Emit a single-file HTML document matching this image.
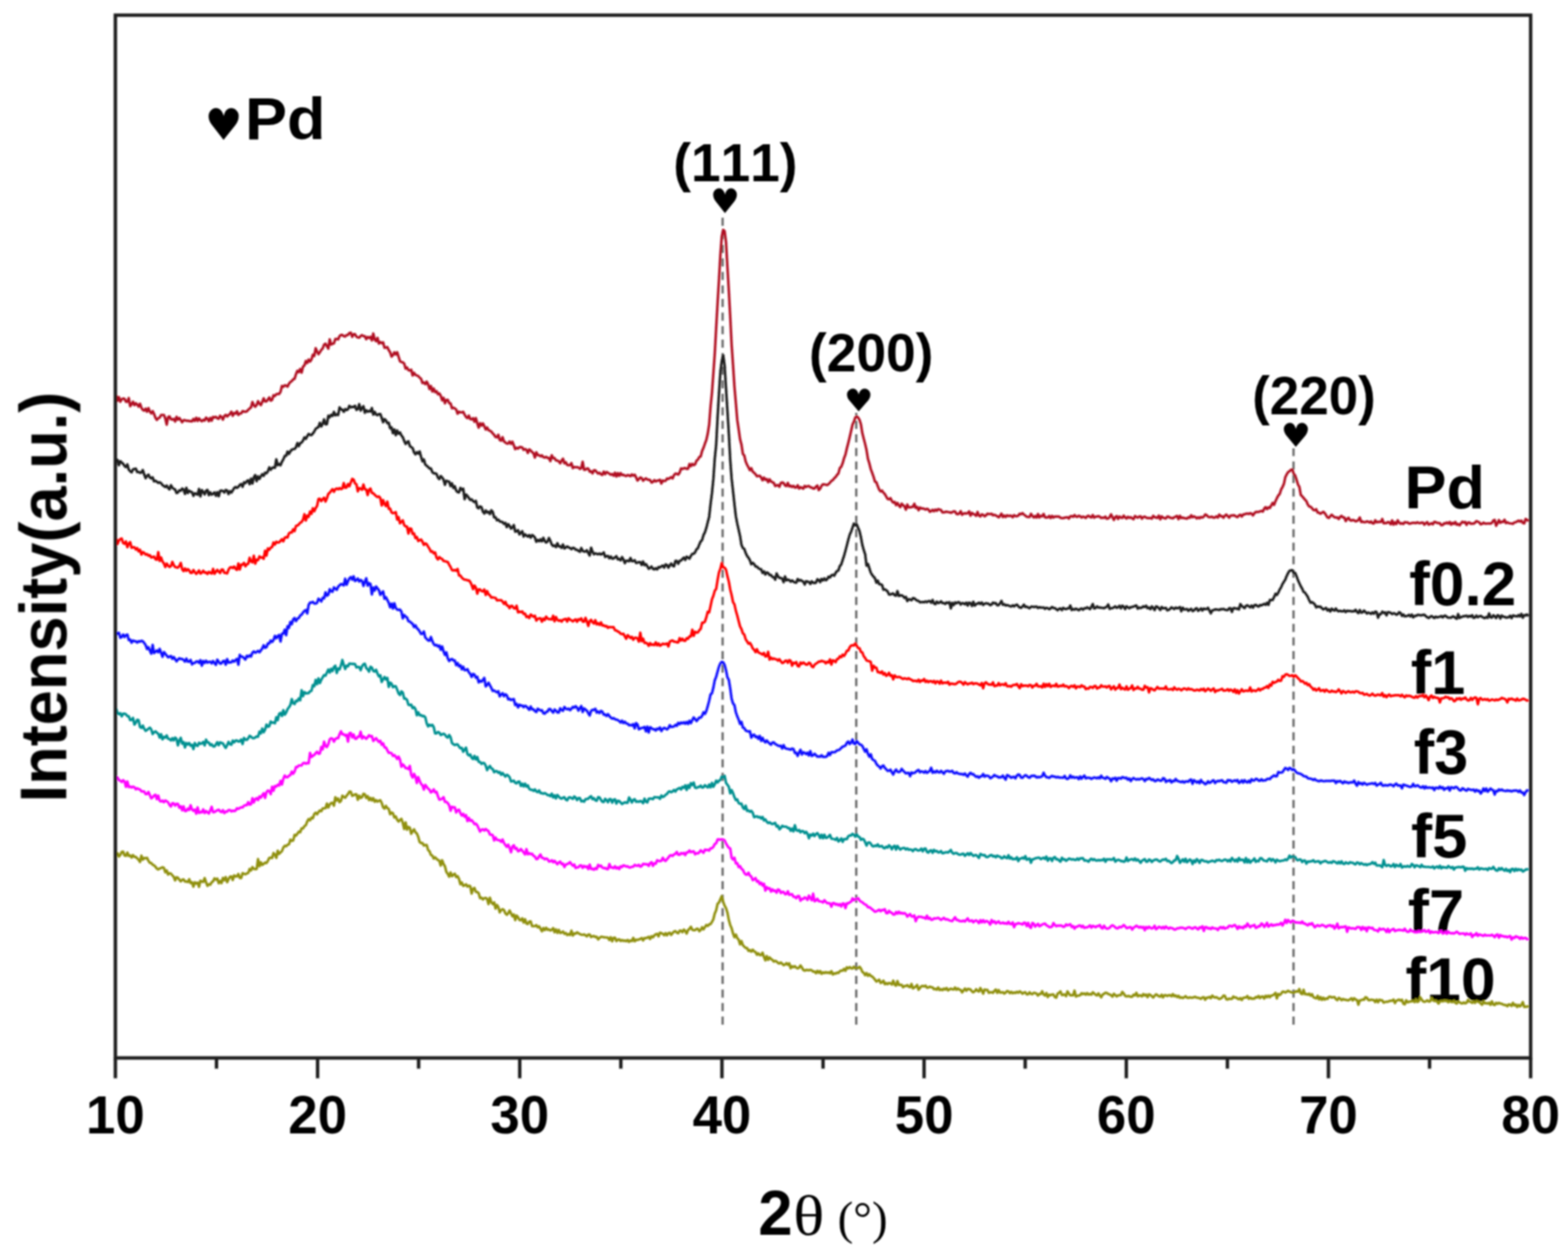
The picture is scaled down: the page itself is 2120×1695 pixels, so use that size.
<!DOCTYPE html><html><head><meta charset="utf-8"><style>html,body{margin:0;padding:0;background:#fff;}svg{display:block;}.b{font-family:"Liberation Sans",Arial,sans-serif;font-weight:bold;fill:#000;font-kerning:none;}.s{font-family:"Liberation Serif","Times New Roman",serif;fill:#000;font-kerning:none;}.h{font-family:"DejaVu Sans",sans-serif;fill:#000;}</style></head><body>
<svg width="2120" height="1695" viewBox="0 0 2120 1695">
<rect width="2120" height="1695" fill="#fff"/>
<defs><filter id="bl" x="-2%" y="-2%" width="104%" height="104%"><feGaussianBlur stdDeviation="0.9"/></filter></defs>
<g filter="url(#bl)">
<text class="b" font-size="84" transform="translate(1898.92,686.6) scale(1.0125,0.982)">Pd</text>
<text class="b" font-size="84" transform="translate(1905.25,817.76) scale(1.0,0.9879)">f0.2</text>
<text class="b" font-size="84" transform="translate(1907.41,938.1) scale(0.9885,0.9885)">f1</text>
<text class="b" font-size="84" transform="translate(1911.51,1046.49) scale(0.9859,1.0081)">f3</text>
<text class="b" font-size="84" transform="translate(1907.73,1159.01) scale(1.0211,0.9879)">f5</text>
<text class="b" font-size="84" transform="translate(1903.58,1260.6) scale(1.0186,0.9951)">f7</text>
<text class="b" font-size="84" transform="translate(1900.25,1352.76) scale(1.0043,0.9879)">f10</text>
<line x1="977.0" y1="1385" x2="977.0" y2="294" stroke="#666" stroke-width="3" stroke-dasharray="11,7.3"/>
<line x1="1157.7" y1="1385" x2="1157.7" y2="558" stroke="#666" stroke-width="3" stroke-dasharray="11,7.3"/>
<line x1="1748.9" y1="1385" x2="1748.9" y2="606" stroke="#666" stroke-width="3" stroke-dasharray="11,7.3"/>
<polyline fill="none" stroke="#b01020" stroke-width="3.4" stroke-linejoin="round" points="157.0,534.5 158.9,541.5 160.8,536.8 162.7,542.9 164.6,539.7 166.5,538.6 168.4,539.2 170.3,543.1 172.2,543.0 174.1,538.1 176.0,549.0 177.9,546.4 179.8,543.0 181.7,547.6 183.6,545.1 185.5,546.8 187.4,549.6 189.3,545.7 191.2,551.1 193.1,554.1 195.0,555.1 196.9,552.4 198.8,556.4 200.7,551.7 202.6,556.3 204.5,558.8 206.4,555.8 208.3,559.6 210.2,564.7 212.1,567.5 214.0,565.3 215.9,564.5 217.8,561.0 219.7,560.9 221.6,560.9 223.5,565.7 225.4,573.9 227.3,563.8 229.2,562.9 231.1,566.6 233.0,567.1 234.9,566.3 236.8,569.7 238.7,563.5 240.6,567.2 242.5,565.0 244.4,567.9 246.3,570.7 248.2,567.9 250.1,568.0 252.0,568.8 253.9,568.6 255.8,569.2 257.7,569.3 259.6,569.5 261.5,566.4 263.4,568.9 265.3,564.7 267.2,568.9 269.1,565.5 271.0,568.1 272.9,569.4 274.8,567.4 276.7,568.5 278.6,564.5 280.5,566.1 282.4,569.3 284.3,564.9 286.2,568.6 288.1,563.6 290.0,564.3 291.9,563.4 293.8,565.4 295.7,566.1 297.6,562.0 299.5,563.5 301.4,567.1 303.3,562.3 305.2,560.7 307.1,562.9 309.0,561.1 310.9,559.5 312.8,556.5 314.7,561.9 316.6,558.2 318.5,559.0 320.4,556.0 322.3,560.8 324.2,558.9 326.1,558.8 328.0,555.7 329.9,556.3 331.8,556.6 333.7,556.2 335.6,553.9 337.5,552.2 339.4,550.7 341.3,543.4 343.2,547.6 345.1,549.8 347.0,547.4 348.9,542.3 350.8,545.6 352.7,547.5 354.6,543.3 356.5,538.4 358.4,542.6 360.3,542.5 362.2,539.9 364.1,537.2 366.0,541.6 367.9,540.5 369.8,534.3 371.7,535.2 373.6,532.8 375.5,532.4 377.4,532.6 379.3,529.6 381.2,521.7 383.1,522.8 385.0,520.8 386.9,521.2 388.8,522.6 390.7,518.7 392.6,516.4 394.5,515.1 396.4,512.7 398.3,512.1 400.2,505.7 402.1,501.2 404.0,503.0 405.9,498.7 407.8,503.7 409.7,495.6 411.6,493.9 413.5,488.1 415.4,490.7 417.3,486.0 419.2,488.7 421.1,485.9 423.0,479.5 424.9,481.1 426.8,470.7 428.7,474.9 430.6,478.8 432.5,476.1 434.4,472.9 436.3,471.0 438.2,465.7 440.1,464.6 442.0,467.9 443.9,471.2 445.8,458.7 447.7,465.7 449.6,464.6 451.5,464.1 453.4,458.2 455.3,458.1 457.2,458.7 459.1,454.4 461.0,452.8 462.9,452.8 464.8,454.3 466.7,454.8 468.6,452.9 470.5,452.7 472.4,450.1 474.3,449.8 476.2,455.3 478.1,451.8 480.0,451.8 481.9,455.0 483.8,456.1 485.7,456.4 487.6,454.1 489.5,453.0 491.4,454.4 493.3,454.4 495.2,458.4 497.1,455.5 499.0,456.9 500.9,455.4 502.8,460.1 504.7,450.8 506.6,458.9 508.5,461.1 510.4,456.7 512.3,464.4 514.2,462.4 516.1,463.9 518.0,462.8 519.9,470.1 521.8,469.9 523.7,469.2 525.6,473.2 527.5,476.1 529.4,481.9 531.3,480.1 533.2,476.2 535.1,479.1 537.0,476.1 538.9,482.3 540.8,488.2 542.7,489.4 544.6,489.7 546.5,491.4 548.4,498.2 550.3,496.7 552.2,500.3 554.1,500.8 556.0,499.8 557.9,507.5 559.8,503.9 561.7,506.7 563.6,507.5 565.5,508.3 567.4,510.5 569.3,512.0 571.2,517.7 573.1,516.9 575.0,519.3 576.9,515.9 578.8,519.4 580.7,525.8 582.6,521.7 584.5,529.2 586.4,525.2 588.3,530.1 590.2,528.8 592.1,532.9 594.0,531.8 595.9,534.9 597.8,541.1 599.7,537.7 601.6,545.1 603.5,540.6 605.4,540.4 607.3,544.9 609.2,545.2 611.1,551.8 613.0,551.1 614.9,552.1 616.8,553.5 618.7,559.1 620.6,556.6 622.5,557.4 624.4,557.4 626.3,556.7 628.2,560.5 630.1,563.7 632.0,565.2 633.9,561.8 635.8,566.4 637.7,566.9 639.6,565.2 641.5,570.1 643.4,565.2 645.3,572.0 647.2,578.1 649.1,572.0 651.0,575.2 652.9,572.3 654.8,576.1 656.7,580.6 658.6,577.9 660.5,581.5 662.4,582.2 664.3,583.4 666.2,585.9 668.1,587.8 670.0,590.7 671.9,591.1 673.8,587.7 675.7,594.8 677.6,595.6 679.5,591.0 681.4,596.7 683.3,598.1 685.2,599.5 687.1,599.6 689.0,596.8 690.9,599.9 692.8,597.1 694.7,601.9 696.6,607.1 698.5,605.3 700.4,606.4 702.3,604.5 704.2,604.3 706.1,604.9 708.0,608.0 709.9,607.0 711.8,608.0 713.7,612.2 715.6,607.5 717.5,608.8 719.4,611.1 721.3,612.5 723.2,618.4 725.1,611.4 727.0,615.1 728.9,615.2 730.8,616.8 732.7,615.5 734.6,617.9 736.5,618.5 738.4,617.5 740.3,619.0 742.2,619.0 744.1,623.3 746.0,615.4 747.9,619.2 749.8,619.3 751.7,622.4 753.6,622.5 755.5,623.6 757.4,626.3 759.3,622.5 761.2,620.0 763.1,626.2 765.0,624.9 766.9,628.4 768.8,628.9 770.7,628.8 772.6,626.0 774.5,632.7 776.4,631.2 778.3,631.6 780.2,631.4 782.1,631.8 784.0,633.8 785.9,632.7 787.8,624.2 789.7,635.0 791.6,634.9 793.5,633.2 795.4,633.4 797.3,637.5 799.2,637.0 801.1,639.8 803.0,635.7 804.9,635.7 806.8,638.1 808.7,640.1 810.6,639.1 812.5,641.2 814.4,641.9 816.3,637.5 818.2,640.9 820.1,638.0 822.0,639.0 823.9,640.4 825.8,641.7 827.7,640.8 829.6,643.0 831.5,639.0 833.4,644.1 835.3,639.5 837.2,643.1 839.1,639.6 841.0,642.1 842.9,641.8 844.8,642.9 846.7,643.5 848.6,642.1 850.5,642.7 852.4,643.6 854.3,641.3 856.2,642.8 858.1,641.7 860.0,645.1 861.9,649.5 863.8,647.6 865.7,645.4 867.6,646.3 869.5,649.8 871.4,647.9 873.3,646.6 875.2,648.1 877.1,648.5 879.0,649.0 880.9,652.2 882.8,651.4 884.7,649.0 886.6,650.7 888.5,649.7 890.4,649.4 892.3,648.6 894.2,653.6 896.1,649.5 898.0,650.2 899.9,649.8 901.8,646.8 903.7,647.3 905.6,646.2 907.5,644.9 909.4,646.6 911.3,642.2 913.2,640.1 915.1,640.5 917.0,641.4 918.9,638.9 920.8,633.2 922.7,633.9 924.6,632.9 926.5,632.7 928.4,633.7 930.3,633.6 932.2,627.2 934.1,630.1 936.0,627.0 937.9,628.7 939.8,627.6 941.7,622.8 943.6,621.2 945.5,617.8 947.4,616.9 949.3,609.5 951.2,605.3 953.1,599.7 955.0,594.7 956.9,586.2 958.8,574.1 960.7,549.6 962.6,531.1 964.5,504.8 966.4,478.2 968.3,443.1 970.2,409.5 972.1,378.0 974.0,344.3 975.9,319.5 977.8,310.6 979.7,312.5 981.6,327.3 983.5,360.6 985.4,392.8 987.3,428.0 989.2,466.1 991.1,493.3 993.0,522.6 994.9,544.6 996.8,567.4 998.7,580.3 1000.6,593.8 1002.5,601.0 1004.4,613.6 1006.3,615.6 1008.2,623.9 1010.1,628.2 1012.0,631.7 1013.9,635.5 1015.8,632.9 1017.7,637.6 1019.6,639.0 1021.5,641.1 1023.4,643.7 1025.3,643.4 1027.2,643.1 1029.1,645.4 1031.0,649.1 1032.9,645.6 1034.8,648.5 1036.7,647.6 1038.6,651.8 1040.5,647.9 1042.4,650.7 1044.3,651.7 1046.2,652.7 1048.1,656.9 1050.0,656.0 1051.9,655.8 1053.8,657.9 1055.7,652.8 1057.6,652.1 1059.5,653.0 1061.4,656.1 1063.3,657.0 1065.2,652.8 1067.1,657.4 1069.0,656.5 1070.9,658.3 1072.8,656.7 1074.7,659.0 1076.6,658.7 1078.5,656.0 1080.4,660.4 1082.3,658.5 1084.2,659.4 1086.1,660.4 1088.0,656.9 1089.9,658.3 1091.8,657.1 1093.7,656.9 1095.6,658.8 1097.5,658.9 1099.4,660.3 1101.3,660.3 1103.2,657.8 1105.1,656.3 1107.0,662.4 1108.9,660.4 1110.8,656.4 1112.7,654.6 1114.6,654.8 1116.5,655.2 1118.4,655.7 1120.3,654.4 1122.2,652.4 1124.1,650.0 1126.0,649.0 1127.9,646.4 1129.8,644.8 1131.7,642.0 1133.6,639.9 1135.5,632.6 1137.4,630.9 1139.3,626.2 1141.2,619.3 1143.1,614.4 1145.0,606.0 1146.9,598.7 1148.8,590.9 1150.7,582.5 1152.6,574.1 1154.5,570.1 1156.4,564.3 1158.3,562.9 1160.2,564.3 1162.1,567.5 1164.0,573.4 1165.9,585.4 1167.8,592.9 1169.7,600.1 1171.6,608.4 1173.5,620.3 1175.4,626.3 1177.3,634.0 1179.2,639.1 1181.1,644.5 1183.0,651.0 1184.9,651.9 1186.8,657.2 1188.7,661.8 1190.6,664.2 1192.5,663.1 1194.4,665.9 1196.3,667.8 1198.2,671.2 1200.1,674.4 1202.0,675.0 1203.9,673.3 1205.8,677.1 1207.7,679.3 1209.6,678.4 1211.5,682.7 1213.4,679.8 1215.3,683.1 1217.2,685.5 1219.1,680.8 1221.0,682.8 1222.9,684.6 1224.8,688.9 1226.7,682.1 1228.6,685.9 1230.5,685.9 1232.4,685.3 1234.3,685.0 1236.2,680.9 1238.1,686.4 1240.0,685.3 1241.9,689.7 1243.8,686.0 1245.7,687.3 1247.6,687.2 1249.5,687.8 1251.4,688.7 1253.3,687.7 1255.2,688.6 1257.1,691.7 1259.0,690.9 1260.9,689.1 1262.8,691.0 1264.7,688.8 1266.6,690.4 1268.5,688.2 1270.4,688.8 1272.3,689.4 1274.2,692.6 1276.1,692.5 1278.0,692.0 1279.9,691.6 1281.8,692.1 1283.7,692.4 1285.6,693.1 1287.5,692.4 1289.4,691.1 1291.3,691.4 1293.2,694.5 1295.1,695.0 1297.0,694.0 1298.9,691.0 1300.8,695.8 1302.7,694.2 1304.6,693.8 1306.5,694.1 1308.4,693.7 1310.3,691.2 1312.2,697.0 1314.1,693.3 1316.0,694.7 1317.9,695.5 1319.8,697.1 1321.7,692.0 1323.6,696.9 1325.5,698.0 1327.4,695.3 1329.3,695.9 1331.2,697.8 1333.1,696.7 1335.0,694.4 1336.9,694.7 1338.8,694.9 1340.7,694.5 1342.6,696.5 1344.5,695.9 1346.4,696.7 1348.3,697.7 1350.2,699.3 1352.1,697.1 1354.0,694.3 1355.9,698.9 1357.8,696.8 1359.7,698.7 1361.6,696.5 1363.5,697.6 1365.4,697.0 1367.3,697.2 1369.2,699.1 1371.1,696.4 1373.0,697.6 1374.9,697.7 1376.8,696.9 1378.7,694.4 1380.6,695.1 1382.5,693.6 1384.4,695.5 1386.3,697.0 1388.2,698.3 1390.1,698.9 1392.0,698.9 1393.9,694.6 1395.8,697.3 1397.7,699.5 1399.6,697.5 1401.5,699.5 1403.4,694.8 1405.3,699.5 1407.2,697.2 1409.1,698.0 1411.0,694.7 1412.9,699.2 1414.8,699.5 1416.7,699.2 1418.6,697.4 1420.5,700.2 1422.4,697.4 1424.3,699.5 1426.2,698.2 1428.1,698.2 1430.0,698.1 1431.9,698.3 1433.8,699.9 1435.7,700.4 1437.6,700.4 1439.5,699.7 1441.4,699.4 1443.3,699.1 1445.2,700.9 1447.1,697.9 1449.0,697.6 1450.9,698.6 1452.8,696.2 1454.7,698.2 1456.6,698.5 1458.5,697.2 1460.4,697.8 1462.3,699.6 1464.2,698.3 1466.1,698.8 1468.0,700.1 1469.9,697.9 1471.8,697.1 1473.7,698.7 1475.6,699.4 1477.5,696.2 1479.4,699.7 1481.3,698.4 1483.2,698.3 1485.1,697.6 1487.0,698.6 1488.9,700.2 1490.8,699.6 1492.7,700.0 1494.6,698.4 1496.5,701.2 1498.4,700.7 1500.3,698.9 1502.2,695.3 1504.1,699.1 1506.0,702.8 1507.9,698.9 1509.8,697.6 1511.7,701.4 1513.6,698.2 1515.5,699.7 1517.4,700.1 1519.3,697.0 1521.2,699.3 1523.1,700.8 1525.0,698.6 1526.9,700.0 1528.8,699.1 1530.7,700.6 1532.6,701.7 1534.5,697.6 1536.4,698.8 1538.3,699.7 1540.2,698.3 1542.1,698.0 1544.0,701.0 1545.9,698.8 1547.8,698.3 1549.7,699.7 1551.6,700.3 1553.5,700.3 1555.4,700.2 1557.3,700.9 1559.2,697.3 1561.1,699.1 1563.0,699.5 1564.9,700.0 1566.8,697.0 1568.7,701.9 1570.6,698.0 1572.5,699.6 1574.4,700.3 1576.3,700.8 1578.2,698.3 1580.1,698.5 1582.0,699.8 1583.9,700.1 1585.8,700.5 1587.7,699.2 1589.6,698.3 1591.5,697.4 1593.4,701.7 1595.3,697.3 1597.2,700.2 1599.1,699.6 1601.0,700.3 1602.9,700.6 1604.8,701.1 1606.7,699.1 1608.6,699.8 1610.5,696.5 1612.4,699.2 1614.3,697.9 1616.2,698.9 1618.1,700.8 1620.0,699.2 1621.9,700.6 1623.8,698.8 1625.7,699.6 1627.6,698.4 1629.5,695.4 1631.4,696.2 1633.3,698.5 1635.2,699.1 1637.1,698.8 1639.0,698.5 1640.9,699.9 1642.8,699.4 1644.7,697.9 1646.6,699.6 1648.5,695.5 1650.4,697.7 1652.3,697.8 1654.2,699.7 1656.1,697.0 1658.0,695.5 1659.9,697.7 1661.8,699.7 1663.7,696.9 1665.6,696.8 1667.5,696.5 1669.4,696.7 1671.3,698.3 1673.2,699.0 1675.1,696.7 1677.0,695.7 1678.9,698.2 1680.8,695.5 1682.7,695.2 1684.6,694.4 1686.5,694.2 1688.4,694.7 1690.3,693.6 1692.2,694.3 1694.1,696.6 1696.0,693.8 1697.9,692.0 1699.8,691.9 1701.7,692.0 1703.6,691.2 1705.5,690.6 1707.4,691.5 1709.3,687.5 1711.2,685.5 1713.1,688.2 1715.0,685.7 1716.9,686.6 1718.8,683.1 1720.7,679.8 1722.6,682.4 1724.5,677.5 1726.4,673.4 1728.3,669.7 1730.2,667.8 1732.1,661.7 1734.0,658.3 1735.9,654.0 1737.8,645.0 1739.7,641.2 1741.6,638.1 1743.5,636.9 1745.4,635.1 1747.3,634.5 1749.2,640.5 1751.1,642.7 1753.0,648.4 1754.9,654.8 1756.8,658.1 1758.7,668.9 1760.6,670.7 1762.5,673.1 1764.4,675.4 1766.3,677.4 1768.2,682.0 1770.1,684.6 1772.0,685.0 1773.9,686.9 1775.8,689.3 1777.7,689.7 1779.6,688.3 1781.5,692.8 1783.4,693.0 1785.3,694.5 1787.2,693.1 1789.1,691.8 1791.0,693.6 1792.9,696.3 1794.8,699.3 1796.7,700.1 1798.6,697.7 1800.5,695.7 1802.4,697.7 1804.3,699.1 1806.2,699.5 1808.1,699.4 1810.0,701.5 1811.9,698.7 1813.8,697.3 1815.7,699.4 1817.6,699.4 1819.5,704.3 1821.4,701.3 1823.3,699.9 1825.2,703.0 1827.1,703.8 1829.0,702.8 1830.9,703.3 1832.8,704.7 1834.7,704.2 1836.6,702.8 1838.5,699.5 1840.4,705.5 1842.3,705.0 1844.2,705.9 1846.1,705.7 1848.0,704.8 1849.9,705.1 1851.8,706.3 1853.7,704.9 1855.6,707.3 1857.5,707.6 1859.4,703.3 1861.3,706.1 1863.2,705.3 1865.1,705.5 1867.0,705.4 1868.9,701.6 1870.8,707.3 1872.7,707.0 1874.6,707.1 1876.5,705.6 1878.4,706.2 1880.3,708.7 1882.2,703.4 1884.1,709.1 1886.0,706.0 1887.9,708.4 1889.8,703.3 1891.7,706.3 1893.6,708.0 1895.5,707.1 1897.4,708.3 1899.3,705.8 1901.2,706.2 1903.1,706.1 1905.0,707.7 1906.9,707.7 1908.8,706.9 1910.7,706.7 1912.6,706.7 1914.5,707.2 1916.4,705.9 1918.3,707.1 1920.2,707.0 1922.1,706.5 1924.0,706.4 1925.9,709.2 1927.8,707.2 1929.7,705.7 1931.6,709.1 1933.5,708.3 1935.4,707.3 1937.3,708.7 1939.2,705.4 1941.1,705.7 1943.0,706.8 1944.9,707.0 1946.8,707.2 1948.7,709.9 1950.6,709.6 1952.5,707.3 1954.4,707.7 1956.3,706.2 1958.2,707.8 1960.1,705.6 1962.0,709.3 1963.9,706.7 1965.8,708.2 1967.7,705.6 1969.6,709.3 1971.5,708.2 1973.4,710.0 1975.3,707.5 1977.2,705.2 1979.1,706.3 1981.0,705.6 1982.9,709.4 1984.8,706.4 1986.7,706.2 1988.6,708.0 1990.5,707.6 1992.4,707.8 1994.3,706.5 1996.2,704.4 1998.1,705.2 2000.0,706.0 2001.9,708.7 2003.8,708.2 2005.7,706.4 2007.6,707.7 2009.5,707.7 2011.4,707.6 2013.3,707.5 2015.2,707.9 2017.1,706.8 2019.0,703.6 2020.9,702.8 2022.8,710.7 2024.7,707.2 2026.6,703.0 2028.5,706.6 2030.4,705.1 2032.3,705.5 2034.2,702.6 2036.1,707.1 2038.0,705.9 2039.9,707.1 2041.8,707.4 2043.7,707.6 2045.6,708.0 2047.5,706.1 2049.4,705.9 2051.3,704.7 2053.2,703.7 2055.1,705.1 2057.0,703.7 2058.9,706.9 2060.8,707.5 2062.7,701.5 2064.6,702.5 2066.5,704.7"/>
<polyline fill="none" stroke="#1a1a1a" stroke-width="3.4" stroke-linejoin="round" points="157.0,622.0 158.9,621.7 160.8,628.8 162.7,623.4 164.6,625.3 166.5,627.1 168.4,629.8 170.3,631.3 172.2,627.7 174.1,634.8 176.0,637.0 177.9,638.5 179.8,634.6 181.7,633.8 183.6,633.4 185.5,638.0 187.4,637.9 189.3,639.0 191.2,638.5 193.1,635.4 195.0,641.4 196.9,646.3 198.8,643.2 200.7,641.5 202.6,645.4 204.5,646.7 206.4,645.2 208.3,650.6 210.2,649.8 212.1,651.2 214.0,652.7 215.9,651.9 217.8,653.2 219.7,655.6 221.6,657.0 223.5,658.2 225.4,656.4 227.3,659.6 229.2,661.4 231.1,655.9 233.0,659.2 234.9,660.8 236.8,661.6 238.7,666.5 240.6,665.6 242.5,662.8 244.4,663.2 246.3,660.4 248.2,661.7 250.1,667.6 252.0,659.5 253.9,666.4 255.8,663.4 257.7,664.6 259.6,665.4 261.5,670.2 263.4,666.8 265.3,667.4 267.2,668.7 269.1,661.0 271.0,671.0 272.9,662.5 274.8,664.8 276.7,668.2 278.6,663.5 280.5,662.2 282.4,669.2 284.3,665.6 286.2,668.6 288.1,667.4 290.0,665.6 291.9,670.1 293.8,665.3 295.7,670.7 297.6,663.5 299.5,663.1 301.4,663.7 303.3,665.7 305.2,662.2 307.1,663.0 309.0,667.8 310.9,664.1 312.8,665.8 314.7,663.0 316.6,659.7 318.5,658.3 320.4,659.5 322.3,658.1 324.2,655.5 326.1,654.3 328.0,658.1 329.9,651.9 331.8,653.1 333.7,650.5 335.6,649.3 337.5,654.5 339.4,647.1 341.3,653.6 343.2,645.2 345.1,642.2 347.0,650.3 348.9,644.0 350.8,647.3 352.7,643.7 354.6,641.0 356.5,643.1 358.4,638.9 360.3,639.7 362.2,637.1 364.1,631.8 366.0,635.0 367.9,632.4 369.8,631.9 371.7,632.3 373.6,620.9 375.5,628.8 377.4,627.1 379.3,628.9 381.2,624.1 383.1,620.9 385.0,616.3 386.9,616.1 388.8,610.4 390.7,613.5 392.6,610.1 394.5,607.9 396.4,607.2 398.3,606.8 400.2,604.6 402.1,598.9 404.0,603.1 405.9,599.0 407.8,598.2 409.7,595.6 411.6,591.3 413.5,593.1 415.4,589.6 417.3,586.6 419.2,587.8 421.1,588.0 423.0,586.0 424.9,583.2 426.8,579.7 428.7,578.3 430.6,577.2 432.5,571.6 434.4,576.5 436.3,572.7 438.2,566.9 440.1,573.5 442.0,573.3 443.9,562.0 445.8,564.0 447.7,560.7 449.6,562.2 451.5,556.8 453.4,561.4 455.3,559.9 457.2,561.0 459.1,550.7 461.0,553.1 462.9,553.9 464.8,556.6 466.7,553.1 468.6,554.3 470.5,553.1 472.4,548.5 474.3,550.7 476.2,549.9 478.1,550.2 480.0,548.5 481.9,554.0 483.8,552.9 485.7,546.3 487.6,555.0 489.5,551.4 491.4,549.0 493.3,557.9 495.2,554.6 497.1,556.4 499.0,555.4 500.9,556.3 502.8,551.6 504.7,560.4 506.6,556.8 508.5,560.2 510.4,561.1 512.3,559.6 514.2,559.6 516.1,564.9 518.0,570.7 519.9,566.5 521.8,568.2 523.7,571.9 525.6,571.5 527.5,578.8 529.4,577.8 531.3,585.5 533.2,580.5 535.1,588.2 537.0,581.9 538.9,586.2 540.8,584.5 542.7,588.6 544.6,590.9 546.5,595.8 548.4,600.1 550.3,597.6 552.2,596.5 554.1,602.7 556.0,604.4 557.9,605.6 559.8,611.4 561.7,614.1 563.6,611.2 565.5,613.2 567.4,610.2 569.3,617.6 571.2,623.6 573.1,621.0 575.0,628.0 576.9,629.4 578.8,631.2 580.7,633.2 582.6,633.3 584.5,638.0 586.4,639.9 588.3,639.8 590.2,640.5 592.1,645.5 594.0,647.5 595.9,643.6 597.8,645.4 599.7,648.2 601.6,655.3 603.5,649.9 605.4,650.5 607.3,651.1 609.2,656.9 611.1,653.4 613.0,659.6 614.9,657.3 616.8,663.2 618.7,665.2 620.6,665.5 622.5,659.4 624.4,662.1 626.3,660.6 628.2,674.8 630.1,668.5 632.0,670.4 633.9,673.0 635.8,675.8 637.7,675.0 639.6,677.4 641.5,678.7 643.4,677.1 645.3,685.8 647.2,687.0 649.1,684.4 651.0,685.4 652.9,691.4 654.8,694.1 656.7,690.0 658.6,692.7 660.5,691.8 662.4,694.8 664.3,689.8 666.2,691.9 668.1,699.2 670.0,699.1 671.9,703.3 673.8,702.4 675.7,704.8 677.6,705.3 679.5,705.6 681.4,708.1 683.3,706.9 685.2,712.5 687.1,708.5 689.0,710.8 690.9,714.6 692.8,712.9 694.7,709.8 696.6,718.7 698.5,718.2 700.4,716.6 702.3,722.3 704.2,720.2 706.1,718.1 708.0,725.2 709.9,722.2 711.8,723.9 713.7,725.3 715.6,723.2 717.5,726.8 719.4,723.2 721.3,724.5 723.2,726.4 725.1,732.3 727.0,729.8 728.9,731.6 730.8,729.1 732.7,731.7 734.6,727.0 736.5,731.3 738.4,733.3 740.3,731.9 742.2,727.2 744.1,731.0 746.0,736.0 747.9,738.0 749.8,737.3 751.7,739.5 753.6,734.3 755.5,738.6 757.4,738.5 759.3,740.5 761.2,736.0 763.1,741.3 765.0,740.1 766.9,738.6 768.8,739.9 770.7,740.8 772.6,742.2 774.5,740.4 776.4,740.8 778.3,743.0 780.2,743.2 782.1,744.6 784.0,745.8 785.9,740.8 787.8,744.6 789.7,745.5 791.6,745.5 793.5,743.8 795.4,747.5 797.3,750.8 799.2,740.4 801.1,745.7 803.0,749.1 804.9,748.0 806.8,748.6 808.7,749.2 810.6,748.3 812.5,749.5 814.4,748.6 816.3,746.7 818.2,752.8 820.1,751.8 822.0,751.5 823.9,754.6 825.8,752.2 827.7,755.0 829.6,754.9 831.5,753.3 833.4,751.9 835.3,756.0 837.2,755.5 839.1,757.4 841.0,753.1 842.9,756.2 844.8,761.2 846.7,757.9 848.6,757.9 850.5,758.7 852.4,754.3 854.3,758.5 856.2,758.4 858.1,757.3 860.0,760.9 861.9,760.6 863.8,759.8 865.7,759.9 867.6,763.6 869.5,759.0 871.4,763.9 873.3,762.6 875.2,765.2 877.1,768.8 879.0,767.5 880.9,765.9 882.8,768.9 884.7,769.6 886.6,768.1 888.5,769.6 890.4,766.5 892.3,767.0 894.2,765.5 896.1,764.6 898.0,767.2 899.9,763.0 901.8,763.7 903.7,767.3 905.6,764.1 907.5,761.8 909.4,764.6 911.3,765.5 913.2,758.3 915.1,758.3 917.0,761.9 918.9,758.2 920.8,757.6 922.7,755.5 924.6,753.7 926.5,756.9 928.4,752.4 930.3,753.8 932.2,755.0 934.1,751.4 936.0,748.6 937.9,748.5 939.8,746.6 941.7,742.6 943.6,740.9 945.5,736.0 947.4,731.7 949.3,729.9 951.2,723.1 953.1,719.5 955.0,713.6 956.9,705.9 958.8,698.8 960.7,681.3 962.6,666.7 964.5,647.7 966.4,619.8 968.3,601.1 970.2,564.4 972.1,532.2 974.0,502.6 975.9,487.9 977.8,480.2 979.7,494.1 981.6,525.2 983.5,555.2 985.4,586.0 987.3,621.7 989.2,646.9 991.1,663.9 993.0,681.5 994.9,697.7 996.8,707.6 998.7,716.2 1000.6,724.6 1002.5,736.4 1004.4,740.8 1006.3,741.9 1008.2,747.5 1010.1,751.5 1012.0,753.9 1013.9,757.2 1015.8,762.7 1017.7,760.7 1019.6,762.5 1021.5,765.5 1023.4,766.0 1025.3,767.9 1027.2,769.2 1029.1,769.5 1031.0,774.4 1032.9,772.3 1034.8,776.6 1036.7,773.8 1038.6,774.6 1040.5,777.3 1042.4,777.2 1044.3,779.8 1046.2,780.1 1048.1,783.5 1050.0,775.2 1051.9,779.0 1053.8,781.1 1055.7,781.3 1057.6,782.1 1059.5,786.9 1061.4,779.2 1063.3,784.5 1065.2,783.4 1067.1,784.1 1069.0,786.2 1070.9,784.6 1072.8,786.3 1074.7,787.4 1076.6,787.5 1078.5,782.7 1080.4,784.9 1082.3,784.0 1084.2,785.1 1086.1,786.2 1088.0,790.1 1089.9,785.7 1091.8,786.3 1093.7,786.6 1095.6,789.3 1097.5,785.9 1099.4,787.5 1101.3,788.0 1103.2,787.5 1105.1,783.1 1107.0,784.0 1108.9,786.9 1110.8,782.5 1112.7,784.5 1114.6,781.9 1116.5,784.3 1118.4,782.8 1120.3,779.4 1122.2,780.4 1124.1,777.7 1126.0,777.0 1127.9,778.1 1129.8,774.4 1131.7,771.9 1133.6,770.9 1135.5,765.1 1137.4,763.0 1139.3,756.9 1141.2,751.4 1143.1,744.4 1145.0,737.1 1146.9,729.6 1148.8,722.9 1150.7,718.7 1152.6,713.2 1154.5,707.8 1156.4,710.1 1158.3,708.9 1160.2,713.5 1162.1,718.0 1164.0,726.1 1165.9,736.5 1167.8,743.4 1169.7,749.0 1171.6,764.6 1173.5,762.4 1175.4,767.9 1177.3,774.0 1179.2,777.2 1181.1,779.5 1183.0,781.6 1184.9,787.6 1186.8,784.8 1188.7,789.6 1190.6,789.8 1192.5,790.6 1194.4,797.0 1196.3,796.6 1198.2,797.8 1200.1,799.5 1202.0,803.6 1203.9,803.6 1205.8,802.7 1207.7,802.2 1209.6,804.6 1211.5,805.1 1213.4,799.1 1215.3,805.6 1217.2,804.8 1219.1,804.8 1221.0,805.7 1222.9,808.2 1224.8,806.8 1226.7,812.4 1228.6,809.9 1230.5,810.4 1232.4,811.2 1234.3,808.5 1236.2,808.7 1238.1,810.4 1240.0,811.9 1241.9,812.1 1243.8,814.0 1245.7,813.9 1247.6,813.6 1249.5,814.0 1251.4,812.9 1253.3,814.0 1255.2,812.5 1257.1,812.5 1259.0,814.7 1260.9,811.1 1262.8,815.7 1264.7,816.6 1266.6,813.2 1268.5,815.2 1270.4,814.5 1272.3,812.9 1274.2,815.0 1276.1,815.3 1278.0,816.2 1279.9,814.3 1281.8,815.1 1283.7,814.0 1285.6,822.4 1287.5,814.9 1289.4,817.9 1291.3,814.2 1293.2,815.5 1295.1,814.0 1297.0,814.3 1298.9,817.1 1300.8,815.3 1302.7,815.5 1304.6,816.7 1306.5,814.5 1308.4,818.6 1310.3,814.6 1312.2,815.3 1314.1,819.1 1316.0,813.4 1317.9,818.6 1319.8,816.6 1321.7,815.9 1323.6,814.6 1325.5,816.4 1327.4,814.4 1329.3,817.7 1331.2,816.0 1333.1,815.4 1335.0,815.7 1336.9,816.3 1338.8,818.0 1340.7,817.1 1342.6,814.4 1344.5,815.5 1346.4,815.3 1348.3,818.1 1350.2,817.8 1352.1,815.5 1354.0,812.3 1355.9,817.5 1357.8,816.7 1359.7,818.5 1361.6,817.7 1363.5,818.5 1365.4,819.3 1367.3,819.8 1369.2,818.2 1371.1,819.7 1373.0,818.0 1374.9,817.2 1376.8,819.5 1378.7,821.1 1380.6,821.6 1382.5,819.6 1384.4,817.4 1386.3,820.5 1388.2,819.9 1390.1,821.3 1392.0,822.1 1393.9,820.1 1395.8,819.9 1397.7,820.5 1399.6,820.2 1401.5,819.9 1403.4,821.8 1405.3,820.6 1407.2,821.3 1409.1,821.4 1411.0,821.1 1412.9,822.9 1414.8,821.5 1416.7,822.1 1418.6,823.5 1420.5,822.2 1422.4,820.4 1424.3,821.8 1426.2,821.9 1428.1,823.5 1430.0,824.9 1431.9,822.9 1433.8,822.4 1435.7,824.6 1437.6,821.6 1439.5,823.0 1441.4,823.2 1443.3,822.4 1445.2,822.2 1447.1,818.4 1449.0,824.6 1450.9,823.2 1452.8,824.0 1454.7,822.7 1456.6,823.6 1458.5,824.8 1460.4,823.3 1462.3,822.4 1464.2,824.1 1466.1,822.2 1468.0,822.2 1469.9,821.0 1471.8,822.0 1473.7,823.2 1475.6,820.3 1477.5,816.4 1479.4,822.4 1481.3,821.8 1483.2,819.7 1485.1,821.2 1487.0,821.1 1488.9,821.5 1490.8,821.6 1492.7,822.0 1494.6,821.1 1496.5,820.0 1498.4,817.1 1500.3,822.9 1502.2,822.2 1504.1,821.9 1506.0,820.9 1507.9,819.7 1509.8,821.6 1511.7,820.7 1513.6,818.9 1515.5,822.2 1517.4,818.7 1519.3,820.1 1521.2,823.2 1523.1,819.5 1525.0,820.9 1526.9,822.2 1528.8,820.7 1530.7,820.5 1532.6,819.9 1534.5,818.9 1536.4,818.5 1538.3,822.7 1540.2,821.2 1542.1,821.8 1544.0,821.2 1545.9,819.5 1547.8,820.5 1549.7,818.9 1551.6,822.1 1553.5,821.2 1555.4,823.5 1557.3,819.7 1559.2,821.7 1561.1,824.6 1563.0,819.8 1564.9,820.1 1566.8,822.2 1568.7,824.4 1570.6,820.4 1572.5,822.3 1574.4,822.0 1576.3,821.6 1578.2,825.0 1580.1,824.4 1582.0,823.0 1583.9,821.0 1585.8,822.1 1587.7,823.2 1589.6,821.2 1591.5,822.3 1593.4,821.7 1595.3,820.6 1597.2,826.2 1599.1,821.4 1601.0,823.9 1602.9,823.6 1604.8,823.1 1606.7,825.7 1608.6,824.2 1610.5,823.0 1612.4,825.9 1614.3,825.1 1616.2,822.9 1618.1,822.2 1620.0,825.6 1621.9,824.2 1623.8,822.4 1625.7,825.2 1627.6,822.4 1629.5,823.4 1631.4,823.2 1633.3,821.6 1635.2,825.3 1637.1,829.1 1639.0,825.1 1640.9,824.7 1642.8,823.7 1644.7,823.8 1646.6,824.2 1648.5,824.6 1650.4,823.3 1652.3,823.6 1654.2,823.1 1656.1,824.1 1658.0,824.5 1659.9,824.6 1661.8,822.3 1663.7,822.1 1665.6,827.1 1667.5,822.1 1669.4,822.0 1671.3,822.8 1673.2,822.5 1675.1,823.7 1677.0,816.6 1678.9,818.9 1680.8,820.6 1682.7,822.0 1684.6,819.0 1686.5,818.1 1688.4,819.5 1690.3,821.0 1692.2,818.6 1694.1,821.3 1696.0,818.2 1697.9,817.5 1699.8,819.1 1701.7,819.8 1703.6,817.8 1705.5,818.3 1707.4,817.2 1709.3,816.2 1711.2,817.5 1713.1,814.7 1715.0,817.5 1716.9,811.0 1718.8,811.0 1720.7,811.0 1722.6,807.1 1724.5,802.6 1726.4,804.2 1728.3,801.2 1730.2,796.8 1732.1,793.8 1734.0,789.3 1735.9,786.3 1737.8,783.3 1739.7,778.4 1741.6,774.5 1743.5,771.6 1745.4,770.9 1747.3,770.7 1749.2,774.4 1751.1,774.4 1753.0,778.8 1754.9,784.2 1756.8,788.4 1758.7,792.5 1760.6,795.6 1762.5,800.1 1764.4,801.1 1766.3,803.9 1768.2,806.8 1770.1,811.4 1772.0,814.7 1773.9,813.9 1775.8,815.2 1777.7,816.9 1779.6,820.9 1781.5,819.6 1783.4,820.3 1785.3,820.0 1787.2,822.1 1789.1,823.8 1791.0,822.8 1792.9,821.8 1794.8,825.1 1796.7,823.6 1798.6,826.5 1800.5,822.8 1802.4,824.4 1804.3,825.2 1806.2,822.6 1808.1,825.4 1810.0,826.3 1811.9,825.5 1813.8,826.4 1815.7,826.2 1817.6,825.0 1819.5,827.3 1821.4,825.4 1823.3,826.1 1825.2,825.7 1827.1,826.5 1829.0,826.3 1830.9,826.4 1832.8,824.2 1834.7,826.9 1836.6,828.7 1838.5,824.6 1840.4,828.0 1842.3,827.6 1844.2,825.3 1846.1,827.2 1848.0,829.2 1849.9,828.0 1851.8,828.6 1853.7,829.7 1855.6,827.8 1857.5,829.5 1859.4,826.7 1861.3,827.3 1863.2,834.9 1865.1,830.5 1867.0,830.0 1868.9,826.8 1870.8,828.6 1872.7,827.8 1874.6,831.7 1876.5,827.4 1878.4,827.6 1880.3,828.6 1882.2,830.0 1884.1,828.9 1886.0,829.4 1887.9,830.8 1889.8,830.1 1891.7,827.6 1893.6,828.6 1895.5,832.6 1897.4,830.6 1899.3,833.1 1901.2,832.8 1903.1,832.4 1905.0,831.1 1906.9,833.2 1908.8,830.7 1910.7,834.5 1912.6,832.4 1914.5,832.5 1916.4,831.3 1918.3,831.2 1920.2,831.7 1922.1,831.5 1924.0,831.2 1925.9,831.0 1927.8,832.8 1929.7,834.3 1931.6,835.4 1933.5,833.9 1935.4,832.8 1937.3,833.9 1939.2,835.4 1941.1,833.4 1943.0,834.6 1944.9,833.9 1946.8,833.6 1948.7,832.7 1950.6,834.5 1952.5,832.5 1954.4,832.3 1956.3,834.1 1958.2,834.9 1960.1,834.9 1962.0,834.8 1963.9,833.3 1965.8,833.5 1967.7,835.2 1969.6,836.4 1971.5,830.1 1973.4,835.3 1975.3,834.0 1977.2,833.6 1979.1,832.7 1981.0,832.8 1982.9,832.1 1984.8,834.0 1986.7,832.4 1988.6,833.4 1990.5,831.6 1992.4,835.2 1994.3,834.6 1996.2,832.1 1998.1,834.2 2000.0,833.1 2001.9,832.5 2003.8,833.7 2005.7,834.7 2007.6,835.6 2009.5,833.9 2011.4,835.1 2013.3,829.2 2015.2,834.3 2017.1,834.8 2019.0,831.7 2020.9,833.0 2022.8,835.5 2024.7,831.7 2026.6,832.3 2028.5,835.9 2030.4,832.0 2032.3,833.5 2034.2,833.7 2036.1,834.7 2038.0,834.5 2039.9,834.4 2041.8,832.2 2043.7,835.5 2045.6,832.0 2047.5,832.5 2049.4,832.8 2051.3,833.2 2053.2,831.4 2055.1,833.2 2057.0,829.9 2058.9,834.9 2060.8,831.5 2062.7,831.7 2064.6,830.5 2066.5,832.8"/>
<polyline fill="none" stroke="#ff0000" stroke-width="3.4" stroke-linejoin="round" points="157.0,727.9 158.9,735.2 160.8,730.5 162.7,728.6 164.6,727.9 166.5,733.9 168.4,734.9 170.3,731.9 172.2,739.5 174.1,734.8 176.0,732.7 177.9,740.4 179.8,739.8 181.7,739.6 183.6,742.7 185.5,740.9 187.4,745.3 189.3,743.0 191.2,749.6 193.1,746.3 195.0,747.3 196.9,749.7 198.8,748.9 200.7,751.2 202.6,750.4 204.5,753.5 206.4,753.0 208.3,752.3 210.2,756.0 212.1,756.6 214.0,746.3 215.9,758.2 217.8,753.6 219.7,759.0 221.6,761.6 223.5,766.4 225.4,761.8 227.3,764.5 229.2,766.4 231.1,765.3 233.0,759.5 234.9,763.7 236.8,766.4 238.7,767.0 240.6,767.2 242.5,765.2 244.4,760.9 246.3,769.4 248.2,771.9 250.1,768.4 252.0,771.5 253.9,769.4 255.8,770.9 257.7,774.4 259.6,774.3 261.5,770.5 263.4,773.5 265.3,775.7 267.2,773.8 269.1,771.1 271.0,775.3 272.9,774.0 274.8,771.4 276.7,774.1 278.6,773.7 280.5,775.8 282.4,773.0 284.3,774.2 286.2,775.2 288.1,768.9 290.0,775.6 291.9,773.0 293.8,770.2 295.7,772.6 297.6,774.5 299.5,769.9 301.4,769.9 303.3,774.2 305.2,774.4 307.1,775.1 309.0,770.0 310.9,767.1 312.8,766.7 314.7,767.8 316.6,765.7 318.5,768.8 320.4,770.3 322.3,761.7 324.2,769.8 326.1,763.3 328.0,763.2 329.9,760.8 331.8,765.4 333.7,762.7 335.6,762.2 337.5,754.0 339.4,758.9 341.3,760.1 343.2,751.2 345.1,761.9 347.0,756.5 348.9,757.1 350.8,752.1 352.7,753.8 354.6,753.3 356.5,755.2 358.4,744.4 360.3,751.0 362.2,741.3 364.1,743.1 366.0,740.3 367.9,739.4 369.8,733.3 371.7,736.1 373.6,732.2 375.5,733.4 377.4,733.1 379.3,731.0 381.2,728.9 383.1,731.7 385.0,726.9 386.9,726.0 388.8,726.5 390.7,720.9 392.6,719.8 394.5,719.7 396.4,715.4 398.3,717.9 400.2,710.9 402.1,710.3 404.0,708.8 405.9,706.5 407.8,705.6 409.7,702.4 411.6,695.1 413.5,703.5 415.4,697.0 417.3,698.6 419.2,691.4 421.1,694.5 423.0,687.1 424.9,691.1 426.8,686.8 428.7,683.9 430.6,674.5 432.5,674.1 434.4,677.3 436.3,674.7 438.2,672.7 440.1,677.9 442.0,673.6 443.9,667.6 445.8,666.0 447.7,663.5 449.6,661.2 451.5,664.7 453.4,661.2 455.3,660.3 457.2,661.4 459.1,659.7 461.0,661.1 462.9,660.2 464.8,653.0 466.7,659.3 468.6,658.8 470.5,654.2 472.4,657.2 474.3,652.2 476.2,647.3 478.1,648.2 480.0,653.4 481.9,654.7 483.8,664.2 485.7,659.8 487.6,660.4 489.5,662.0 491.4,654.9 493.3,661.2 495.2,661.6 497.1,669.2 499.0,661.8 500.9,660.4 502.8,666.3 504.7,666.7 506.6,668.8 508.5,670.6 510.4,671.9 512.3,671.0 514.2,673.2 516.1,683.3 518.0,676.0 519.9,681.2 521.8,684.0 523.7,678.0 525.6,687.7 527.5,687.5 529.4,692.6 531.3,693.7 533.2,693.2 535.1,692.3 537.0,702.3 538.9,699.0 540.8,707.3 542.7,705.4 544.6,703.4 546.5,709.7 548.4,711.5 550.3,711.8 552.2,721.2 554.1,714.3 556.0,714.7 557.9,721.7 559.8,721.0 561.7,727.3 563.6,725.9 565.5,731.3 567.4,730.1 569.3,729.3 571.2,732.2 573.1,736.5 575.0,734.6 576.9,735.6 578.8,738.9 580.7,741.7 582.6,745.7 584.5,745.2 586.4,747.9 588.3,746.8 590.2,753.7 592.1,756.2 594.0,753.0 595.9,754.7 597.8,755.5 599.7,758.4 601.6,758.5 603.5,759.3 605.4,759.6 607.3,763.3 609.2,766.4 611.1,770.6 613.0,771.1 614.9,770.4 616.8,771.5 618.7,769.0 620.6,777.9 622.5,778.0 624.4,780.8 626.3,782.6 628.2,783.6 630.1,783.6 632.0,784.6 633.9,784.4 635.8,786.7 637.7,790.6 639.6,796.3 641.5,791.5 643.4,794.3 645.3,802.4 647.2,796.6 649.1,796.8 651.0,798.8 652.9,799.4 654.8,796.8 656.7,804.2 658.6,799.0 660.5,803.3 662.4,804.7 664.3,807.8 666.2,807.4 668.1,807.9 670.0,808.1 671.9,811.5 673.8,811.3 675.7,811.4 677.6,811.1 679.5,813.1 681.4,816.2 683.3,813.5 685.2,818.1 687.1,818.9 689.0,822.0 690.9,819.0 692.8,819.3 694.7,822.1 696.6,822.5 698.5,818.8 700.4,827.7 702.3,826.7 704.2,827.4 706.1,826.4 708.0,829.8 709.9,829.4 711.8,834.1 713.7,833.1 715.6,835.4 717.5,830.7 719.4,832.1 721.3,833.6 723.2,832.3 725.1,838.8 727.0,836.6 728.9,835.9 730.8,835.8 732.7,840.3 734.6,836.1 736.5,838.1 738.4,833.5 740.3,835.9 742.2,836.9 744.1,836.8 746.0,837.3 747.9,832.3 749.8,839.8 751.7,834.0 753.6,837.8 755.5,839.1 757.4,838.2 759.3,840.2 761.2,837.7 763.1,837.2 765.0,836.5 766.9,840.1 768.8,835.8 770.7,837.6 772.6,838.5 774.5,840.0 776.4,838.3 778.3,837.2 780.2,840.4 782.1,837.1 784.0,838.0 785.9,835.7 787.8,840.2 789.7,840.3 791.6,835.2 793.5,840.0 795.4,846.1 797.3,839.5 799.2,837.8 801.1,841.1 803.0,842.8 804.9,838.2 806.8,843.9 808.7,842.4 810.6,844.7 812.5,841.2 814.4,845.6 816.3,845.1 818.2,846.7 820.1,846.1 822.0,848.7 823.9,847.4 825.8,847.9 827.7,847.7 829.6,847.7 831.5,851.9 833.4,852.2 835.3,853.7 837.2,854.4 839.1,856.6 841.0,857.0 842.9,856.7 844.8,860.1 846.7,863.4 848.6,858.6 850.5,860.1 852.4,862.5 854.3,860.8 856.2,864.7 858.1,862.2 860.0,861.9 861.9,863.0 863.8,867.3 865.7,855.3 867.6,866.8 869.5,863.2 871.4,869.0 873.3,868.9 875.2,869.8 877.1,872.9 879.0,869.3 880.9,871.8 882.8,871.0 884.7,872.0 886.6,868.2 888.5,872.3 890.4,869.7 892.3,872.8 894.2,871.7 896.1,870.0 898.0,870.8 899.9,870.5 901.8,869.7 903.7,873.8 905.6,867.3 907.5,866.1 909.4,865.8 911.3,867.4 913.2,867.4 915.1,868.2 917.0,868.3 918.9,862.5 920.8,865.8 922.7,863.3 924.6,866.1 926.5,866.1 928.4,862.7 930.3,863.4 932.2,860.1 934.1,860.2 936.0,851.2 937.9,859.4 939.8,853.9 941.7,855.1 943.6,854.8 945.5,851.8 947.4,850.0 949.3,841.8 951.2,841.7 953.1,840.1 955.0,834.4 956.9,827.0 958.8,827.8 960.7,819.1 962.6,810.1 964.5,805.4 966.4,798.6 968.3,796.0 970.2,783.9 972.1,773.8 974.0,768.7 975.9,761.0 977.8,766.9 979.7,767.3 981.6,770.2 983.5,778.8 985.4,786.1 987.3,796.9 989.2,804.3 991.1,813.9 993.0,816.9 994.9,825.5 996.8,832.0 998.7,839.5 1000.6,846.7 1002.5,850.4 1004.4,856.1 1006.3,857.8 1008.2,864.1 1010.1,867.0 1012.0,870.0 1013.9,869.0 1015.8,872.0 1017.7,876.4 1019.6,878.2 1021.5,881.5 1023.4,877.6 1025.3,881.8 1027.2,882.7 1029.1,883.5 1031.0,884.8 1032.9,882.6 1034.8,887.4 1036.7,887.1 1038.6,881.1 1040.5,891.6 1042.4,888.8 1044.3,890.9 1046.2,889.9 1048.1,890.9 1050.0,891.2 1051.9,892.9 1053.8,891.1 1055.7,893.9 1057.6,896.2 1059.5,895.6 1061.4,893.4 1063.3,892.9 1065.2,895.9 1067.1,892.3 1069.0,893.1 1070.9,899.8 1072.8,895.8 1074.7,896.7 1076.6,894.9 1078.5,900.2 1080.4,900.8 1082.3,895.5 1084.2,897.2 1086.1,895.5 1088.0,896.8 1089.9,898.3 1091.8,898.2 1093.7,895.7 1095.6,896.8 1097.5,900.8 1099.4,901.8 1101.3,898.5 1103.2,897.1 1105.1,895.9 1107.0,894.2 1108.9,894.4 1110.8,893.1 1112.7,894.0 1114.6,894.2 1116.5,896.6 1118.4,894.4 1120.3,895.5 1122.2,891.3 1124.1,898.3 1126.0,892.6 1127.9,893.1 1129.8,895.0 1131.7,890.9 1133.6,890.3 1135.5,887.1 1137.4,888.3 1139.3,884.9 1141.2,886.6 1143.1,883.6 1145.0,879.7 1146.9,879.3 1148.8,875.0 1150.7,872.6 1152.6,872.1 1154.5,872.5 1156.4,869.6 1158.3,872.8 1160.2,876.0 1162.1,876.1 1164.0,881.2 1165.9,881.9 1167.8,887.0 1169.7,889.4 1171.6,892.7 1173.5,893.4 1175.4,893.7 1177.3,894.7 1179.2,906.5 1181.1,899.9 1183.0,902.4 1184.9,902.4 1186.8,908.5 1188.7,908.5 1190.6,909.7 1192.5,907.5 1194.4,911.8 1196.3,909.8 1198.2,913.6 1200.1,912.2 1202.0,909.4 1203.9,913.4 1205.8,912.7 1207.7,918.3 1209.6,912.9 1211.5,915.0 1213.4,915.4 1215.3,914.9 1217.2,915.4 1219.1,916.8 1221.0,917.7 1222.9,916.8 1224.8,917.3 1226.7,918.0 1228.6,916.8 1230.5,918.2 1232.4,918.8 1234.3,920.6 1236.2,920.3 1238.1,920.2 1240.0,921.1 1241.9,918.7 1243.8,921.8 1245.7,919.7 1247.6,920.2 1249.5,917.9 1251.4,921.8 1253.3,920.0 1255.2,922.0 1257.1,920.7 1259.0,920.7 1260.9,922.2 1262.8,920.4 1264.7,923.7 1266.6,920.9 1268.5,921.4 1270.4,924.1 1272.3,920.1 1274.2,923.8 1276.1,922.7 1278.0,922.8 1279.9,923.1 1281.8,921.5 1283.7,925.5 1285.6,923.9 1287.5,924.2 1289.4,924.5 1291.3,924.9 1293.2,924.0 1295.1,922.2 1297.0,921.4 1298.9,921.7 1300.8,923.2 1302.7,925.5 1304.6,922.1 1306.5,923.6 1308.4,925.1 1310.3,923.8 1312.2,923.9 1314.1,922.8 1316.0,924.7 1317.9,923.7 1319.8,923.6 1321.7,924.1 1323.6,925.3 1325.5,926.3 1327.4,923.2 1329.3,930.3 1331.2,923.4 1333.1,922.3 1335.0,924.2 1336.9,925.3 1338.8,925.2 1340.7,925.6 1342.6,922.4 1344.5,927.5 1346.4,926.8 1348.3,926.6 1350.2,923.3 1352.1,926.4 1354.0,925.0 1355.9,925.1 1357.8,925.9 1359.7,923.5 1361.6,927.6 1363.5,927.5 1365.4,927.3 1367.3,928.2 1369.2,926.2 1371.1,925.8 1373.0,925.8 1374.9,924.5 1376.8,927.6 1378.7,930.2 1380.6,924.9 1382.5,927.4 1384.4,926.7 1386.3,926.8 1388.2,926.8 1390.1,927.7 1392.0,925.8 1393.9,926.2 1395.8,929.3 1397.7,926.9 1399.6,926.9 1401.5,924.3 1403.4,927.7 1405.3,927.9 1407.2,927.5 1409.1,929.1 1411.0,924.2 1412.9,928.5 1414.8,924.8 1416.7,927.5 1418.6,924.3 1420.5,928.5 1422.4,927.2 1424.3,926.7 1426.2,927.5 1428.1,924.4 1430.0,928.1 1431.9,927.8 1433.8,926.7 1435.7,927.5 1437.6,925.3 1439.5,927.9 1441.4,927.3 1443.3,928.1 1445.2,930.1 1447.1,927.9 1449.0,927.0 1450.9,928.5 1452.8,926.3 1454.7,930.4 1456.6,928.0 1458.5,928.1 1460.4,928.8 1462.3,926.3 1464.2,928.1 1466.1,927.9 1468.0,931.4 1469.9,930.4 1471.8,931.0 1473.7,928.4 1475.6,928.6 1477.5,930.0 1479.4,927.5 1481.3,927.2 1483.2,930.8 1485.1,929.3 1487.0,929.3 1488.9,926.2 1490.8,928.1 1492.7,928.1 1494.6,927.8 1496.5,929.3 1498.4,927.5 1500.3,927.2 1502.2,931.8 1504.1,929.7 1506.0,927.6 1507.9,932.2 1509.8,930.0 1511.7,929.7 1513.6,925.3 1515.5,931.5 1517.4,929.6 1519.3,931.2 1521.2,932.0 1523.1,927.7 1525.0,932.3 1526.9,930.9 1528.8,929.9 1530.7,926.5 1532.6,932.7 1534.5,930.4 1536.4,930.8 1538.3,928.3 1540.2,930.9 1542.1,930.9 1544.0,932.3 1545.9,932.3 1547.8,927.1 1549.7,929.4 1551.6,928.9 1553.5,935.9 1555.4,930.2 1557.3,930.8 1559.2,932.4 1561.1,933.1 1563.0,930.8 1564.9,928.5 1566.8,930.8 1568.7,930.6 1570.6,930.8 1572.5,930.8 1574.4,931.0 1576.3,927.9 1578.2,931.9 1580.1,931.9 1582.0,931.7 1583.9,931.1 1585.8,932.6 1587.7,929.0 1589.6,931.3 1591.5,932.3 1593.4,930.9 1595.3,931.5 1597.2,933.1 1599.1,931.5 1601.0,930.5 1602.9,931.1 1604.8,932.4 1606.7,930.4 1608.6,932.0 1610.5,931.4 1612.4,932.2 1614.3,933.2 1616.2,933.2 1618.1,932.3 1620.0,932.6 1621.9,933.4 1623.8,931.3 1625.7,932.7 1627.6,930.9 1629.5,934.3 1631.4,932.7 1633.3,930.8 1635.2,932.0 1637.1,933.8 1639.0,931.9 1640.9,930.5 1642.8,935.4 1644.7,933.3 1646.6,933.5 1648.5,932.6 1650.4,932.0 1652.3,931.1 1654.2,933.5 1656.1,933.3 1658.0,933.0 1659.9,931.5 1661.8,933.9 1663.7,932.1 1665.6,933.0 1667.5,935.2 1669.4,931.7 1671.3,936.7 1673.2,933.0 1675.1,937.4 1677.0,934.4 1678.9,931.6 1680.8,934.5 1682.7,934.0 1684.6,933.3 1686.5,933.8 1688.4,933.9 1690.3,929.2 1692.2,934.7 1694.1,933.2 1696.0,933.4 1697.9,934.2 1699.8,932.9 1701.7,930.9 1703.6,933.3 1705.5,931.3 1707.4,931.4 1709.3,929.4 1711.2,929.4 1713.1,927.3 1715.0,929.9 1716.9,925.1 1718.8,926.8 1720.7,921.5 1722.6,923.1 1724.5,921.8 1726.4,921.3 1728.3,918.9 1730.2,920.4 1732.1,920.1 1734.0,914.1 1735.9,914.9 1737.8,911.9 1739.7,911.3 1741.6,912.3 1743.5,913.6 1745.4,913.4 1747.3,912.7 1749.2,915.2 1751.1,912.8 1753.0,914.2 1754.9,916.6 1756.8,918.2 1758.7,921.2 1760.6,920.5 1762.5,921.7 1764.4,924.1 1766.3,923.0 1768.2,926.0 1770.1,924.9 1772.0,928.1 1773.9,929.5 1775.8,932.4 1777.7,930.9 1779.6,933.4 1781.5,932.1 1783.4,930.2 1785.3,934.0 1787.2,933.3 1789.1,932.6 1791.0,935.0 1792.9,932.3 1794.8,933.4 1796.7,935.1 1798.6,935.4 1800.5,933.4 1802.4,934.8 1804.3,934.6 1806.2,935.5 1808.1,934.4 1810.0,931.8 1811.9,934.4 1813.8,937.2 1815.7,934.0 1817.6,935.0 1819.5,936.6 1821.4,935.2 1823.3,934.2 1825.2,935.8 1827.1,935.7 1829.0,934.9 1830.9,936.1 1832.8,934.5 1834.7,934.5 1836.6,935.2 1838.5,936.7 1840.4,937.1 1842.3,936.5 1844.2,939.0 1846.1,938.5 1848.0,937.9 1849.9,939.5 1851.8,940.2 1853.7,939.2 1855.6,937.6 1857.5,939.7 1859.4,940.4 1861.3,939.4 1863.2,938.8 1865.1,939.5 1867.0,939.7 1868.9,936.8 1870.8,941.6 1872.7,939.6 1874.6,942.4 1876.5,939.9 1878.4,938.8 1880.3,941.1 1882.2,940.2 1884.1,940.4 1886.0,939.7 1887.9,939.8 1889.8,939.6 1891.7,939.7 1893.6,941.3 1895.5,939.1 1897.4,941.2 1899.3,942.6 1901.2,939.9 1903.1,941.0 1905.0,940.3 1906.9,940.9 1908.8,941.8 1910.7,942.8 1912.6,943.0 1914.5,941.0 1916.4,942.9 1918.3,941.2 1920.2,940.6 1922.1,940.9 1924.0,939.7 1925.9,942.5 1927.8,940.0 1929.7,942.9 1931.6,946.3 1933.5,941.5 1935.4,940.0 1937.3,943.5 1939.2,941.8 1941.1,943.1 1943.0,943.2 1944.9,943.6 1946.8,949.5 1948.7,943.9 1950.6,943.9 1952.5,943.4 1954.4,941.7 1956.3,942.9 1958.2,942.4 1960.1,945.0 1962.0,943.7 1963.9,944.9 1965.8,947.8 1967.7,947.1 1969.6,944.0 1971.5,945.1 1973.4,943.5 1975.3,945.9 1977.2,944.1 1979.1,944.5 1981.0,942.7 1982.9,945.3 1984.8,946.9 1986.7,946.5 1988.6,943.3 1990.5,946.0 1992.4,943.9 1994.3,942.7 1996.2,943.3 1998.1,952.0 2000.0,944.7 2001.9,943.5 2003.8,945.7 2005.7,945.7 2007.6,944.9 2009.5,946.0 2011.4,944.9 2013.3,947.1 2015.2,946.5 2017.1,945.4 2019.0,946.0 2020.9,946.8 2022.8,945.5 2024.7,946.4 2026.6,945.6 2028.5,944.9 2030.4,943.2 2032.3,944.1 2034.2,944.5 2036.1,945.9 2038.0,949.4 2039.9,944.6 2041.8,945.3 2043.7,944.2 2045.6,945.5 2047.5,945.7 2049.4,947.0 2051.3,944.2 2053.2,946.8 2055.1,946.4 2057.0,945.7 2058.9,944.5 2060.8,944.7 2062.7,945.9 2064.6,947.0 2066.5,946.1"/>
<polyline fill="none" stroke="#1010ff" stroke-width="3.4" stroke-linejoin="round" points="157.0,857.5 158.9,856.1 160.8,855.4 162.7,862.1 164.6,861.0 166.5,857.7 168.4,861.0 170.3,858.6 172.2,857.7 174.1,865.2 176.0,864.6 177.9,868.7 179.8,865.7 181.7,866.9 183.6,866.8 185.5,868.5 187.4,866.7 189.3,867.3 191.2,866.2 193.1,866.9 195.0,869.1 196.9,871.9 198.8,877.3 200.7,874.9 202.6,879.4 204.5,883.6 206.4,871.8 208.3,882.7 210.2,881.0 212.1,879.1 214.0,881.7 215.9,877.1 217.8,882.3 219.7,887.7 221.6,881.4 223.5,883.7 225.4,886.2 227.3,888.4 229.2,887.6 231.1,886.8 233.0,890.5 234.9,888.0 236.8,891.0 238.7,893.9 240.6,891.5 242.5,889.7 244.4,890.7 246.3,890.6 248.2,892.0 250.1,894.3 252.0,890.3 253.9,894.3 255.8,894.2 257.7,892.1 259.6,898.0 261.5,896.3 263.4,896.1 265.3,894.1 267.2,893.9 269.1,896.0 271.0,892.4 272.9,899.7 274.8,893.4 276.7,896.1 278.6,893.1 280.5,895.6 282.4,894.7 284.3,894.4 286.2,896.6 288.1,893.5 290.0,896.2 291.9,898.7 293.8,891.7 295.7,894.4 297.6,897.0 299.5,896.5 301.4,893.7 303.3,893.3 305.2,898.4 307.1,890.9 309.0,895.7 310.9,895.2 312.8,895.3 314.7,892.8 316.6,894.3 318.5,892.2 320.4,890.6 322.3,898.4 324.2,885.2 326.1,887.6 328.0,887.7 329.9,889.7 331.8,891.4 333.7,886.4 335.6,887.9 337.5,885.8 339.4,887.4 341.3,882.2 343.2,880.6 345.1,882.3 347.0,881.3 348.9,879.7 350.8,881.6 352.7,879.1 354.6,876.5 356.5,872.2 358.4,875.6 360.3,874.8 362.2,869.6 364.1,869.8 366.0,865.7 367.9,867.6 369.8,865.2 371.7,859.5 373.6,862.6 375.5,860.1 377.4,858.3 379.3,867.1 381.2,856.6 383.1,856.3 385.0,851.2 386.9,858.5 388.8,846.4 390.7,848.7 392.6,840.7 394.5,843.7 396.4,837.3 398.3,835.4 400.2,839.5 402.1,836.3 404.0,835.3 405.9,832.0 407.8,830.8 409.7,828.0 411.6,825.7 413.5,824.6 415.4,829.2 417.3,817.7 419.2,814.5 421.1,814.5 423.0,813.6 424.9,815.7 426.8,815.9 428.7,814.7 430.6,809.3 432.5,810.8 434.4,812.9 436.3,808.0 438.2,808.8 440.1,800.7 442.0,805.2 443.9,803.8 445.8,796.4 447.7,799.2 449.6,799.8 451.5,794.0 453.4,795.6 455.3,797.2 457.2,793.0 459.1,791.1 461.0,789.5 462.9,790.0 464.8,791.2 466.7,782.3 468.6,790.3 470.5,785.8 472.4,781.7 474.3,780.1 476.2,783.5 478.1,779.0 480.0,785.3 481.9,784.1 483.8,782.0 485.7,786.1 487.6,784.0 489.5,785.1 491.4,791.9 493.3,786.5 495.2,781.7 497.1,791.6 499.0,788.2 500.9,789.5 502.8,803.5 504.7,794.2 506.6,798.3 508.5,792.8 510.4,795.4 512.3,797.6 514.2,804.1 516.1,801.5 518.0,799.4 519.9,809.4 521.8,807.3 523.7,811.0 525.6,814.8 527.5,820.8 529.4,815.9 531.3,822.5 533.2,815.4 535.1,821.8 537.0,824.0 538.9,824.2 540.8,824.0 542.7,826.7 544.6,835.8 546.5,831.3 548.4,833.4 550.3,834.6 552.2,839.7 554.1,840.1 556.0,841.9 557.9,843.3 559.8,847.6 561.7,845.4 563.6,849.0 565.5,850.8 567.4,853.5 569.3,856.8 571.2,856.6 573.1,853.6 575.0,861.6 576.9,863.7 578.8,865.5 580.7,866.0 582.6,861.1 584.5,866.6 586.4,870.6 588.3,872.4 590.2,871.7 592.1,874.0 594.0,872.6 595.9,878.3 597.8,873.8 599.7,880.4 601.6,885.3 603.5,881.7 605.4,889.8 607.3,893.4 609.2,891.6 611.1,890.8 613.0,892.7 614.9,892.7 616.8,899.1 618.7,896.2 620.6,900.8 622.5,899.2 624.4,904.6 626.3,901.3 628.2,905.9 630.1,905.6 632.0,904.5 633.9,908.9 635.8,910.8 637.7,915.0 639.6,911.0 641.5,911.9 643.4,915.9 645.3,914.9 647.2,922.4 649.1,920.0 651.0,921.5 652.9,919.2 654.8,916.3 656.7,927.7 658.6,925.8 660.5,922.8 662.4,926.3 664.3,929.9 666.2,934.0 668.1,933.3 670.0,934.6 671.9,935.8 673.8,934.3 675.7,941.2 677.6,938.7 679.5,937.0 681.4,941.1 683.3,938.5 685.2,939.8 687.1,945.3 689.0,944.5 690.9,946.3 692.8,945.5 694.7,945.0 696.6,953.1 698.5,951.4 700.4,956.2 702.3,952.5 704.2,953.7 706.1,953.7 708.0,955.9 709.9,953.9 711.8,955.0 713.7,957.1 715.6,959.5 717.5,955.1 719.4,958.8 721.3,958.7 723.2,961.1 725.1,962.5 727.0,958.0 728.9,959.1 730.8,960.5 732.7,959.9 734.6,964.0 736.5,964.5 738.4,962.4 740.3,961.8 742.2,958.4 744.1,958.5 746.0,961.2 747.9,963.2 749.8,959.1 751.7,960.5 753.6,963.0 755.5,963.1 757.4,957.4 759.3,959.8 761.2,960.7 763.1,955.7 765.0,958.0 766.9,958.7 768.8,957.8 770.7,959.9 772.6,958.1 774.5,955.4 776.4,956.4 778.3,954.6 780.2,956.4 782.1,960.4 784.0,957.2 785.9,954.4 787.8,962.4 789.7,957.6 791.6,959.1 793.5,960.6 795.4,964.0 797.3,967.1 799.2,960.8 801.1,959.4 803.0,959.8 804.9,958.0 806.8,963.2 808.7,961.7 810.6,963.8 812.5,960.9 814.4,962.0 816.3,966.0 818.2,965.6 820.1,967.8 822.0,965.4 823.9,967.9 825.8,970.0 827.7,971.4 829.6,970.6 831.5,972.3 833.4,972.6 835.3,973.4 837.2,974.6 839.1,976.6 841.0,974.0 842.9,977.3 844.8,975.5 846.7,977.8 848.6,978.2 850.5,980.3 852.4,979.9 854.3,980.6 856.2,978.7 858.1,984.5 860.0,977.5 861.9,979.2 863.8,985.7 865.7,984.7 867.6,983.9 869.5,983.8 871.4,982.6 873.3,988.6 875.2,982.2 877.1,990.1 879.0,983.0 880.9,984.2 882.8,985.8 884.7,985.6 886.6,987.4 888.5,984.9 890.4,985.7 892.3,983.3 894.2,988.2 896.1,985.1 898.0,983.8 899.9,984.8 901.8,985.9 903.7,984.3 905.6,980.2 907.5,982.6 909.4,982.3 911.3,981.8 913.2,979.8 915.1,981.0 917.0,977.0 918.9,978.8 920.8,976.6 922.7,977.8 924.6,976.2 926.5,978.3 928.4,975.9 930.3,978.6 932.2,974.2 934.1,977.5 936.0,973.4 937.9,969.8 939.8,971.9 941.7,974.6 943.6,972.3 945.5,969.9 947.4,970.0 949.3,967.7 951.2,962.7 953.1,964.9 955.0,960.9 956.9,954.4 958.8,947.4 960.7,938.7 962.6,937.2 964.5,929.5 966.4,919.5 968.3,914.8 970.2,907.8 972.1,901.1 974.0,896.6 975.9,894.6 977.8,895.4 979.7,898.8 981.6,906.1 983.5,915.5 985.4,918.9 987.3,930.6 989.2,944.5 991.1,950.9 993.0,953.2 994.9,962.8 996.8,968.3 998.7,972.6 1000.6,978.4 1002.5,975.7 1004.4,983.5 1006.3,984.2 1008.2,987.4 1010.1,988.3 1012.0,988.7 1013.9,988.4 1015.8,997.1 1017.7,993.8 1019.6,993.0 1021.5,996.2 1023.4,995.4 1025.3,998.6 1027.2,994.8 1029.1,1001.4 1031.0,997.4 1032.9,1001.4 1034.8,1003.4 1036.7,1000.8 1038.6,1003.2 1040.5,1004.9 1042.4,1006.6 1044.3,1003.6 1046.2,1003.4 1048.1,1005.7 1050.0,1006.5 1051.9,1007.8 1053.8,1008.5 1055.7,1007.9 1057.6,1011.7 1059.5,1007.2 1061.4,1011.2 1063.3,1011.9 1065.2,1012.3 1067.1,1012.7 1069.0,1013.3 1070.9,1011.8 1072.8,1012.3 1074.7,1017.8 1076.6,1017.4 1078.5,1021.7 1080.4,1017.1 1082.3,1013.5 1084.2,1019.8 1086.1,1016.8 1088.0,1017.6 1089.9,1019.3 1091.8,1017.4 1093.7,1021.1 1095.6,1015.3 1097.5,1021.7 1099.4,1020.9 1101.3,1018.9 1103.2,1020.7 1105.1,1022.8 1107.0,1022.4 1108.9,1022.8 1110.8,1020.9 1112.7,1023.0 1114.6,1022.9 1116.5,1023.1 1118.4,1021.8 1120.3,1017.5 1122.2,1020.5 1124.1,1016.8 1126.0,1016.8 1127.9,1016.9 1129.8,1016.2 1131.7,1014.2 1133.6,1013.9 1135.5,1012.9 1137.4,1010.9 1139.3,1009.4 1141.2,1008.5 1143.1,1007.8 1145.0,1004.1 1146.9,1002.3 1148.8,1005.6 1150.7,1003.7 1152.6,999.6 1154.5,1005.2 1156.4,1005.7 1158.3,1001.7 1160.2,1003.8 1162.1,1006.2 1164.0,1006.6 1165.9,1008.3 1167.8,1012.2 1169.7,1015.9 1171.6,1012.7 1173.5,1019.0 1175.4,1022.8 1177.3,1019.5 1179.2,1025.9 1181.1,1027.4 1183.0,1028.5 1184.9,1032.4 1186.8,1034.9 1188.7,1036.0 1190.6,1038.8 1192.5,1035.8 1194.4,1034.7 1196.3,1038.0 1198.2,1039.8 1200.1,1042.0 1202.0,1041.6 1203.9,1040.4 1205.8,1043.8 1207.7,1046.9 1209.6,1042.6 1211.5,1040.2 1213.4,1043.2 1215.3,1043.6 1217.2,1042.8 1219.1,1039.2 1221.0,1041.6 1222.9,1043.6 1224.8,1045.4 1226.7,1044.8 1228.6,1044.7 1230.5,1049.1 1232.4,1044.1 1234.3,1045.2 1236.2,1044.7 1238.1,1043.5 1240.0,1041.8 1241.9,1040.7 1243.8,1043.9 1245.7,1042.6 1247.6,1043.1 1249.5,1044.4 1251.4,1042.2 1253.3,1044.7 1255.2,1043.4 1257.1,1042.0 1259.0,1037.8 1260.9,1044.5 1262.8,1042.7 1264.7,1044.2 1266.6,1041.7 1268.5,1043.7 1270.4,1044.0 1272.3,1042.0 1274.2,1043.8 1276.1,1045.9 1278.0,1042.8 1279.9,1042.2 1281.8,1041.9 1283.7,1043.0 1285.6,1042.7 1287.5,1042.0 1289.4,1044.9 1291.3,1045.4 1293.2,1043.7 1295.1,1045.4 1297.0,1046.0 1298.9,1046.3 1300.8,1046.3 1302.7,1047.3 1304.6,1045.5 1306.5,1048.1 1308.4,1049.8 1310.3,1046.2 1312.2,1044.6 1314.1,1046.5 1316.0,1046.3 1317.9,1048.4 1319.8,1050.1 1321.7,1049.3 1323.6,1051.2 1325.5,1049.5 1327.4,1049.1 1329.3,1046.2 1331.2,1049.8 1333.1,1048.4 1335.0,1048.6 1336.9,1049.1 1338.8,1051.9 1340.7,1050.9 1342.6,1049.6 1344.5,1047.5 1346.4,1049.0 1348.3,1049.3 1350.2,1051.0 1352.1,1050.5 1354.0,1050.5 1355.9,1048.4 1357.8,1051.2 1359.7,1053.8 1361.6,1047.7 1363.5,1048.3 1365.4,1049.9 1367.3,1051.3 1369.2,1050.2 1371.1,1050.0 1373.0,1052.1 1374.9,1048.3 1376.8,1046.8 1378.7,1047.6 1380.6,1051.1 1382.5,1051.3 1384.4,1049.3 1386.3,1047.7 1388.2,1048.6 1390.1,1050.5 1392.0,1051.3 1393.9,1049.0 1395.8,1048.7 1397.7,1048.5 1399.6,1049.0 1401.5,1050.9 1403.4,1050.2 1405.3,1050.5 1407.2,1050.1 1409.1,1049.2 1411.0,1044.6 1412.9,1048.4 1414.8,1050.5 1416.7,1050.6 1418.6,1051.6 1420.5,1049.9 1422.4,1048.8 1424.3,1049.8 1426.2,1049.7 1428.1,1050.9 1430.0,1049.9 1431.9,1051.0 1433.8,1051.0 1435.7,1051.1 1437.6,1051.2 1439.5,1048.9 1441.4,1052.1 1443.3,1052.9 1445.2,1051.7 1447.1,1048.0 1449.0,1051.2 1450.9,1049.8 1452.8,1051.5 1454.7,1050.7 1456.6,1050.6 1458.5,1053.2 1460.4,1049.5 1462.3,1052.5 1464.2,1050.1 1466.1,1048.4 1468.0,1052.1 1469.9,1051.2 1471.8,1051.4 1473.7,1051.5 1475.6,1052.8 1477.5,1051.8 1479.4,1050.9 1481.3,1051.2 1483.2,1052.1 1485.1,1050.7 1487.0,1052.1 1488.9,1048.6 1490.8,1051.4 1492.7,1051.6 1494.6,1052.7 1496.5,1050.2 1498.4,1051.5 1500.3,1052.5 1502.2,1056.0 1504.1,1052.2 1506.0,1052.9 1507.9,1051.3 1509.8,1055.2 1511.7,1051.8 1513.6,1051.8 1515.5,1052.5 1517.4,1050.4 1519.3,1050.9 1521.2,1051.9 1523.1,1051.2 1525.0,1053.9 1526.9,1052.2 1528.8,1055.8 1530.7,1053.0 1532.6,1051.6 1534.5,1053.0 1536.4,1053.8 1538.3,1052.9 1540.2,1053.6 1542.1,1052.7 1544.0,1052.0 1545.9,1053.1 1547.8,1055.8 1549.7,1052.8 1551.6,1053.4 1553.5,1051.4 1555.4,1052.8 1557.3,1054.3 1559.2,1053.4 1561.1,1055.7 1563.0,1055.5 1564.9,1053.6 1566.8,1054.2 1568.7,1055.4 1570.6,1055.1 1572.5,1051.8 1574.4,1052.3 1576.3,1056.9 1578.2,1055.1 1580.1,1055.5 1582.0,1054.3 1583.9,1057.6 1585.8,1055.4 1587.7,1056.0 1589.6,1053.0 1591.5,1055.3 1593.4,1055.9 1595.3,1056.7 1597.2,1057.2 1599.1,1056.0 1601.0,1057.8 1602.9,1056.3 1604.8,1056.3 1606.7,1056.6 1608.6,1054.4 1610.5,1053.7 1612.4,1059.4 1614.3,1054.5 1616.2,1056.1 1618.1,1057.8 1620.0,1056.1 1621.9,1058.6 1623.8,1054.3 1625.7,1057.3 1627.6,1057.9 1629.5,1060.1 1631.4,1059.1 1633.3,1056.0 1635.2,1058.2 1637.1,1057.4 1639.0,1055.3 1640.9,1054.7 1642.8,1058.4 1644.7,1056.5 1646.6,1055.5 1648.5,1056.0 1650.4,1055.1 1652.3,1054.6 1654.2,1057.3 1656.1,1057.3 1658.0,1058.1 1659.9,1054.5 1661.8,1055.0 1663.7,1054.8 1665.6,1056.7 1667.5,1055.7 1669.4,1054.7 1671.3,1055.9 1673.2,1054.3 1675.1,1058.4 1677.0,1057.1 1678.9,1054.7 1680.8,1057.8 1682.7,1054.5 1684.6,1056.7 1686.5,1057.6 1688.4,1055.2 1690.3,1057.6 1692.2,1053.3 1694.1,1055.0 1696.0,1055.0 1697.9,1052.8 1699.8,1053.1 1701.7,1055.2 1703.6,1055.2 1705.5,1053.3 1707.4,1055.2 1709.3,1054.8 1711.2,1054.8 1713.1,1053.0 1715.0,1052.7 1716.9,1053.1 1718.8,1050.7 1720.7,1049.5 1722.6,1048.0 1724.5,1049.3 1726.4,1049.1 1728.3,1043.5 1730.2,1044.3 1732.1,1044.2 1734.0,1043.8 1735.9,1040.7 1737.8,1038.0 1739.7,1039.1 1741.6,1040.8 1743.5,1037.9 1745.4,1038.7 1747.3,1040.8 1749.2,1039.7 1751.1,1041.9 1753.0,1044.3 1754.9,1045.1 1756.8,1045.5 1758.7,1046.2 1760.6,1047.2 1762.5,1048.9 1764.4,1049.5 1766.3,1049.6 1768.2,1051.9 1770.1,1052.4 1772.0,1052.5 1773.9,1053.2 1775.8,1054.3 1777.7,1052.9 1779.6,1054.9 1781.5,1055.3 1783.4,1056.1 1785.3,1055.0 1787.2,1055.3 1789.1,1055.9 1791.0,1056.0 1792.9,1055.4 1794.8,1055.6 1796.7,1055.4 1798.6,1055.7 1800.5,1055.3 1802.4,1055.3 1804.3,1055.1 1806.2,1058.5 1808.1,1055.8 1810.0,1056.6 1811.9,1055.5 1813.8,1057.1 1815.7,1058.7 1817.6,1056.2 1819.5,1057.5 1821.4,1057.3 1823.3,1058.6 1825.2,1057.4 1827.1,1057.5 1829.0,1057.5 1830.9,1055.0 1832.8,1059.3 1834.7,1062.0 1836.6,1057.1 1838.5,1059.5 1840.4,1058.4 1842.3,1060.5 1844.2,1058.0 1846.1,1059.4 1848.0,1060.7 1849.9,1059.8 1851.8,1059.4 1853.7,1059.2 1855.6,1058.6 1857.5,1059.7 1859.4,1058.3 1861.3,1061.9 1863.2,1060.6 1865.1,1059.8 1867.0,1058.1 1868.9,1061.6 1870.8,1062.1 1872.7,1061.0 1874.6,1061.7 1876.5,1061.8 1878.4,1060.7 1880.3,1060.5 1882.2,1061.2 1884.1,1062.8 1886.0,1060.5 1887.9,1059.3 1889.8,1061.7 1891.7,1061.8 1893.6,1061.7 1895.5,1065.6 1897.4,1060.5 1899.3,1061.1 1901.2,1061.8 1903.1,1062.4 1905.0,1063.3 1906.9,1063.7 1908.8,1063.1 1910.7,1059.6 1912.6,1062.8 1914.5,1062.7 1916.4,1061.4 1918.3,1062.7 1920.2,1064.3 1922.1,1064.6 1924.0,1062.7 1925.9,1065.7 1927.8,1063.1 1929.7,1065.1 1931.6,1064.5 1933.5,1064.5 1935.4,1065.3 1937.3,1064.4 1939.2,1068.0 1941.1,1064.6 1943.0,1064.9 1944.9,1065.8 1946.8,1063.0 1948.7,1065.5 1950.6,1064.0 1952.5,1067.6 1954.4,1065.4 1956.3,1065.9 1958.2,1063.9 1960.1,1068.6 1962.0,1064.1 1963.9,1064.6 1965.8,1065.6 1967.7,1063.7 1969.6,1063.9 1971.5,1066.2 1973.4,1068.2 1975.3,1068.4 1977.2,1065.5 1979.1,1066.4 1981.0,1068.0 1982.9,1068.8 1984.8,1066.3 1986.7,1067.1 1988.6,1067.5 1990.5,1067.8 1992.4,1067.3 1994.3,1070.0 1996.2,1067.5 1998.1,1069.4 2000.0,1068.7 2001.9,1072.6 2003.8,1070.1 2005.7,1065.8 2007.6,1069.2 2009.5,1065.8 2011.4,1070.2 2013.3,1068.2 2015.2,1065.9 2017.1,1067.4 2019.0,1068.3 2020.9,1073.9 2022.8,1069.0 2024.7,1069.6 2026.6,1067.1 2028.5,1068.4 2030.4,1067.2 2032.3,1068.6 2034.2,1068.9 2036.1,1069.2 2038.0,1068.2 2039.9,1069.1 2041.8,1068.8 2043.7,1069.7 2045.6,1068.8 2047.5,1068.7 2049.4,1068.4 2051.3,1068.7 2053.2,1070.4 2055.1,1068.4 2057.0,1071.3 2058.9,1071.1 2060.8,1074.6 2062.7,1070.8 2064.6,1068.3 2066.5,1069.1"/>
<polyline fill="none" stroke="#009090" stroke-width="3.4" stroke-linejoin="round" points="157.0,957.7 158.9,963.5 160.8,965.3 162.7,964.0 164.6,968.2 166.5,964.8 168.4,964.6 170.3,965.5 172.2,968.0 174.1,968.1 176.0,973.4 177.9,973.1 179.8,970.4 181.7,979.4 183.6,976.9 185.5,973.0 187.4,973.5 189.3,982.6 191.2,984.0 193.1,980.8 195.0,985.1 196.9,987.9 198.8,986.6 200.7,985.0 202.6,983.5 204.5,986.1 206.4,992.2 208.3,989.8 210.2,988.6 212.1,990.4 214.0,991.8 215.9,997.0 217.8,992.4 219.7,999.3 221.6,996.0 223.5,997.0 225.4,994.1 227.3,998.6 229.2,998.9 231.1,1000.8 233.0,997.8 234.9,1000.7 236.8,997.0 238.7,998.8 240.6,1007.6 242.5,1001.1 244.4,997.3 246.3,1005.2 248.2,1003.0 250.1,1010.3 252.0,1004.3 253.9,1006.3 255.8,1004.2 257.7,1008.0 259.6,1006.7 261.5,1012.5 263.4,1004.3 265.3,1007.4 267.2,1008.3 269.1,1003.9 271.0,1005.5 272.9,1004.9 274.8,1002.8 276.7,1007.6 278.6,999.8 280.5,1003.5 282.4,1003.8 284.3,1007.2 286.2,1006.0 288.1,1008.7 290.0,1009.0 291.9,1006.2 293.8,1003.2 295.7,1007.2 297.6,1003.4 299.5,1004.2 301.4,1004.8 303.3,1008.2 305.2,1010.9 307.1,1007.2 309.0,1002.8 310.9,1006.0 312.8,1006.6 314.7,1001.1 316.6,1003.4 318.5,1001.0 320.4,1000.9 322.3,1002.3 324.2,1002.1 326.1,999.5 328.0,1005.7 329.9,997.5 331.8,999.7 333.7,1000.0 335.6,998.0 337.5,994.6 339.4,995.7 341.3,997.6 343.2,997.9 345.1,996.7 347.0,995.5 348.9,995.9 350.8,988.9 352.7,991.4 354.6,984.8 356.5,989.8 358.4,986.2 360.3,979.4 362.2,982.3 364.1,981.6 366.0,975.3 367.9,976.8 369.8,976.6 371.7,977.6 373.6,969.5 375.5,973.5 377.4,964.9 379.3,963.6 381.2,967.8 383.1,960.0 385.0,966.0 386.9,963.1 388.8,958.5 390.7,956.0 392.6,953.0 394.5,944.9 396.4,950.5 398.3,951.6 400.2,947.2 402.1,947.8 404.0,944.0 405.9,946.6 407.8,932.9 409.7,941.0 411.6,935.4 413.5,937.2 415.4,937.0 417.3,936.9 419.2,934.3 421.1,933.9 423.0,925.9 424.9,927.6 426.8,919.1 428.7,924.8 430.6,917.0 432.5,923.3 434.4,918.8 436.3,915.5 438.2,912.5 440.1,913.2 442.0,909.1 443.9,905.0 445.8,909.1 447.7,904.0 449.6,907.0 451.5,901.6 453.4,899.9 455.3,909.7 457.2,903.7 459.1,904.8 461.0,899.4 462.9,892.1 464.8,898.7 466.7,904.3 468.6,899.8 470.5,900.6 472.4,896.9 474.3,897.1 476.2,897.5 478.1,897.3 480.0,897.7 481.9,902.2 483.8,901.5 485.7,901.6 487.6,905.9 489.5,900.6 491.4,897.9 493.3,897.2 495.2,902.9 497.1,904.7 499.0,907.9 500.9,901.3 502.8,902.5 504.7,906.9 506.6,907.8 508.5,905.4 510.4,910.4 512.3,914.3 514.2,912.7 516.1,921.8 518.0,918.3 519.9,915.1 521.8,918.4 523.7,916.2 525.6,928.5 527.5,922.7 529.4,924.2 531.3,928.9 533.2,927.5 535.1,927.8 537.0,932.1 538.9,937.3 540.8,939.4 542.7,934.6 544.6,936.1 546.5,944.3 548.4,944.3 550.3,946.1 552.2,952.6 554.1,953.0 556.0,952.5 557.9,957.2 559.8,955.8 561.7,958.4 563.6,966.8 565.5,962.8 567.4,966.9 569.3,966.5 571.2,968.1 573.1,967.8 575.0,969.5 576.9,977.7 578.8,981.9 580.7,979.6 582.6,981.0 584.5,979.7 586.4,982.7 588.3,991.4 590.2,991.3 592.1,989.4 594.0,990.2 595.9,993.5 597.8,992.6 599.7,991.8 601.6,992.9 603.5,995.9 605.4,997.0 607.3,993.5 609.2,996.4 611.1,1004.3 613.0,1006.1 614.9,1007.1 616.8,1006.2 618.7,1006.2 620.6,1009.1 622.5,1011.4 624.4,1010.9 626.3,1016.1 628.2,1013.2 630.1,1010.6 632.0,1019.2 633.9,1021.1 635.8,1019.9 637.7,1024.2 639.6,1025.9 641.5,1021.8 643.4,1026.6 645.3,1023.3 647.2,1029.8 649.1,1030.0 651.0,1032.6 652.9,1031.2 654.8,1031.6 656.7,1034.8 658.6,1040.9 660.5,1037.5 662.4,1035.3 664.3,1038.7 666.2,1039.3 668.1,1043.8 670.0,1042.3 671.9,1042.4 673.8,1044.5 675.7,1043.6 677.6,1047.3 679.5,1044.9 681.4,1047.3 683.3,1049.7 685.2,1047.3 687.1,1048.3 689.0,1050.5 690.9,1056.3 692.8,1055.9 694.7,1055.2 696.6,1058.1 698.5,1058.8 700.4,1056.6 702.3,1056.5 704.2,1062.3 706.1,1059.3 708.0,1063.0 709.9,1059.2 711.8,1063.2 713.7,1061.6 715.6,1066.4 717.5,1067.5 719.4,1067.5 721.3,1069.0 723.2,1067.0 725.1,1069.7 727.0,1070.7 728.9,1068.3 730.8,1072.0 732.7,1071.9 734.6,1072.9 736.5,1072.0 738.4,1073.0 740.3,1074.7 742.2,1074.6 744.1,1076.1 746.0,1072.8 747.9,1077.9 749.8,1075.0 751.7,1079.2 753.6,1074.6 755.5,1076.7 757.4,1078.9 759.3,1079.5 761.2,1078.2 763.1,1077.6 765.0,1080.8 766.9,1081.8 768.8,1078.1 770.7,1077.6 772.6,1078.8 774.5,1079.8 776.4,1076.6 778.3,1078.1 780.2,1081.5 782.1,1078.6 784.0,1078.6 785.9,1083.2 787.8,1082.4 789.7,1083.6 791.6,1080.3 793.5,1080.0 795.4,1079.5 797.3,1077.5 799.2,1076.2 801.1,1080.2 803.0,1078.9 804.9,1081.7 806.8,1082.4 808.7,1077.5 810.6,1077.9 812.5,1081.1 814.4,1083.6 816.3,1084.1 818.2,1079.8 820.1,1081.5 822.0,1084.4 823.9,1080.3 825.8,1080.1 827.7,1084.9 829.6,1081.1 831.5,1080.4 833.4,1086.1 835.3,1082.4 837.2,1082.6 839.1,1084.8 841.0,1086.7 842.9,1085.5 844.8,1084.5 846.7,1085.0 848.6,1085.0 850.5,1077.9 852.4,1080.8 854.3,1084.7 856.2,1081.3 858.1,1080.3 860.0,1083.8 861.9,1083.1 863.8,1083.8 865.7,1082.7 867.6,1083.4 869.5,1085.7 871.4,1079.6 873.3,1083.5 875.2,1084.6 877.1,1079.7 879.0,1079.4 880.9,1079.5 882.8,1080.2 884.7,1077.4 886.6,1077.6 888.5,1077.9 890.4,1077.6 892.3,1079.8 894.2,1075.3 896.1,1077.2 898.0,1076.4 899.9,1074.3 901.8,1073.3 903.7,1070.4 905.6,1069.7 907.5,1070.9 909.4,1069.7 911.3,1067.8 913.2,1069.9 915.1,1067.0 917.0,1066.1 918.9,1065.1 920.8,1067.1 922.7,1063.5 924.6,1065.0 926.5,1061.6 928.4,1067.7 930.3,1061.3 932.2,1065.0 934.1,1058.6 936.0,1061.1 937.9,1057.8 939.8,1064.7 941.7,1065.1 943.6,1063.8 945.5,1063.7 947.4,1061.9 949.3,1064.5 951.2,1064.0 953.1,1061.3 955.0,1063.0 956.9,1064.4 958.8,1060.5 960.7,1064.2 962.6,1058.2 964.5,1063.4 966.4,1060.2 968.3,1055.2 970.2,1057.6 972.1,1055.1 974.0,1054.4 975.9,1049.4 977.8,1050.8 979.7,1048.5 981.6,1058.2 983.5,1060.8 985.4,1063.5 987.3,1072.3 989.2,1068.0 991.1,1072.0 993.0,1077.6 994.9,1081.5 996.8,1080.6 998.7,1085.5 1000.6,1086.5 1002.5,1086.2 1004.4,1091.5 1006.3,1093.5 1008.2,1089.0 1010.1,1096.0 1012.0,1095.5 1013.9,1097.2 1015.8,1096.0 1017.7,1098.5 1019.6,1104.6 1021.5,1103.8 1023.4,1103.3 1025.3,1104.8 1027.2,1104.2 1029.1,1106.5 1031.0,1104.2 1032.9,1109.0 1034.8,1107.5 1036.7,1110.7 1038.6,1112.5 1040.5,1111.4 1042.4,1113.0 1044.3,1113.9 1046.2,1113.1 1048.1,1112.3 1050.0,1117.2 1051.9,1116.1 1053.8,1121.0 1055.7,1119.2 1057.6,1116.2 1059.5,1117.2 1061.4,1117.4 1063.3,1117.4 1065.2,1119.4 1067.1,1119.1 1069.0,1123.0 1070.9,1120.0 1072.8,1123.7 1074.7,1115.4 1076.6,1122.0 1078.5,1123.0 1080.4,1121.9 1082.3,1125.0 1084.2,1123.3 1086.1,1123.6 1088.0,1126.3 1089.9,1124.3 1091.8,1127.0 1093.7,1133.1 1095.6,1128.0 1097.5,1129.5 1099.4,1126.9 1101.3,1130.0 1103.2,1127.4 1105.1,1126.0 1107.0,1128.8 1108.9,1132.7 1110.8,1128.2 1112.7,1133.1 1114.6,1128.3 1116.5,1132.5 1118.4,1132.2 1120.3,1130.6 1122.2,1128.5 1124.1,1133.6 1126.0,1133.9 1127.9,1134.1 1129.8,1135.2 1131.7,1132.6 1133.6,1137.4 1135.5,1135.8 1137.4,1133.2 1139.3,1137.9 1141.2,1134.1 1143.1,1134.3 1145.0,1134.1 1146.9,1130.4 1148.8,1129.3 1150.7,1129.4 1152.6,1127.1 1154.5,1128.2 1156.4,1130.9 1158.3,1127.6 1160.2,1130.8 1162.1,1131.3 1164.0,1135.2 1165.9,1133.8 1167.8,1134.6 1169.7,1138.3 1171.6,1142.9 1173.5,1139.1 1175.4,1138.6 1177.3,1140.3 1179.2,1143.4 1181.1,1144.1 1183.0,1142.9 1184.9,1143.7 1186.8,1141.4 1188.7,1144.4 1190.6,1143.8 1192.5,1143.4 1194.4,1146.1 1196.3,1146.5 1198.2,1144.4 1200.1,1145.7 1202.0,1142.6 1203.9,1144.2 1205.8,1148.0 1207.7,1144.5 1209.6,1143.2 1211.5,1148.4 1213.4,1143.4 1215.3,1146.0 1217.2,1148.4 1219.1,1146.8 1221.0,1146.3 1222.9,1146.2 1224.8,1148.3 1226.7,1146.7 1228.6,1148.7 1230.5,1148.2 1232.4,1148.6 1234.3,1150.4 1236.2,1148.2 1238.1,1147.6 1240.0,1149.1 1241.9,1149.7 1243.8,1149.1 1245.7,1147.0 1247.6,1150.7 1249.5,1147.2 1251.4,1147.0 1253.3,1151.5 1255.2,1152.5 1257.1,1149.9 1259.0,1149.3 1260.9,1152.7 1262.8,1148.8 1264.7,1150.9 1266.6,1150.2 1268.5,1152.2 1270.4,1151.9 1272.3,1150.4 1274.2,1153.4 1276.1,1153.0 1278.0,1152.1 1279.9,1151.9 1281.8,1152.4 1283.7,1150.8 1285.6,1148.9 1287.5,1152.7 1289.4,1154.1 1291.3,1153.1 1293.2,1153.0 1295.1,1154.2 1297.0,1155.4 1298.9,1155.1 1300.8,1154.2 1302.7,1154.0 1304.6,1156.8 1306.5,1155.0 1308.4,1153.4 1310.3,1155.7 1312.2,1153.0 1314.1,1155.0 1316.0,1156.9 1317.9,1155.9 1319.8,1155.8 1321.7,1157.5 1323.6,1159.6 1325.5,1154.2 1327.4,1155.3 1329.3,1156.1 1331.2,1155.6 1333.1,1158.1 1335.0,1158.6 1336.9,1157.5 1338.8,1156.2 1340.7,1155.6 1342.6,1157.7 1344.5,1156.9 1346.4,1158.8 1348.3,1156.4 1350.2,1157.6 1352.1,1157.9 1354.0,1160.1 1355.9,1159.8 1357.8,1157.4 1359.7,1159.2 1361.6,1160.0 1363.5,1156.0 1365.4,1160.5 1367.3,1158.9 1369.2,1161.5 1371.1,1160.8 1373.0,1161.3 1374.9,1158.7 1376.8,1163.9 1378.7,1160.7 1380.6,1160.4 1382.5,1159.2 1384.4,1160.7 1386.3,1157.2 1388.2,1162.2 1390.1,1161.1 1392.0,1160.4 1393.9,1166.2 1395.8,1161.4 1397.7,1161.4 1399.6,1160.1 1401.5,1159.8 1403.4,1159.3 1405.3,1159.4 1407.2,1161.3 1409.1,1160.2 1411.0,1159.2 1412.9,1161.0 1414.8,1157.9 1416.7,1163.5 1418.6,1160.1 1420.5,1160.1 1422.4,1163.7 1424.3,1159.4 1426.2,1158.4 1428.1,1161.6 1430.0,1161.2 1431.9,1163.1 1433.8,1164.7 1435.7,1159.4 1437.6,1161.9 1439.5,1161.4 1441.4,1163.5 1443.3,1162.2 1445.2,1160.5 1447.1,1160.9 1449.0,1161.9 1450.9,1161.3 1452.8,1162.2 1454.7,1162.3 1456.6,1160.3 1458.5,1162.3 1460.4,1160.2 1462.3,1160.3 1464.2,1160.0 1466.1,1163.2 1468.0,1162.9 1469.9,1163.5 1471.8,1164.7 1473.7,1162.0 1475.6,1160.7 1477.5,1162.5 1479.4,1161.3 1481.3,1162.8 1483.2,1163.3 1485.1,1162.4 1487.0,1163.1 1488.9,1162.4 1490.8,1162.7 1492.7,1160.7 1494.6,1164.8 1496.5,1161.4 1498.4,1161.8 1500.3,1161.4 1502.2,1162.1 1504.1,1161.8 1506.0,1159.7 1507.9,1164.7 1509.8,1163.0 1511.7,1162.1 1513.6,1162.5 1515.5,1164.0 1517.4,1163.8 1519.3,1164.9 1521.2,1163.9 1523.1,1159.0 1525.0,1163.9 1526.9,1162.3 1528.8,1161.6 1530.7,1161.2 1532.6,1162.8 1534.5,1160.3 1536.4,1163.2 1538.3,1161.7 1540.2,1163.8 1542.1,1166.3 1544.0,1163.4 1545.9,1162.3 1547.8,1161.3 1549.7,1164.7 1551.6,1164.5 1553.5,1161.7 1555.4,1162.6 1557.3,1165.1 1559.2,1163.2 1561.1,1162.2 1563.0,1161.8 1564.9,1162.1 1566.8,1164.0 1568.7,1164.6 1570.6,1162.7 1572.5,1161.8 1574.4,1162.2 1576.3,1160.8 1578.2,1164.0 1580.1,1163.4 1582.0,1165.0 1583.9,1166.7 1585.8,1165.4 1587.7,1162.9 1589.6,1162.7 1591.5,1157.1 1593.4,1160.6 1595.3,1166.3 1597.2,1164.0 1599.1,1161.5 1601.0,1164.7 1602.9,1160.7 1604.8,1165.5 1606.7,1163.9 1608.6,1161.7 1610.5,1163.0 1612.4,1168.0 1614.3,1163.0 1616.2,1165.4 1618.1,1161.3 1620.0,1163.2 1621.9,1166.3 1623.8,1162.4 1625.7,1162.4 1627.6,1163.9 1629.5,1164.2 1631.4,1164.2 1633.3,1165.7 1635.2,1164.6 1637.1,1164.1 1639.0,1163.2 1640.9,1164.0 1642.8,1165.0 1644.7,1162.4 1646.6,1163.0 1648.5,1162.0 1650.4,1163.5 1652.3,1163.7 1654.2,1162.7 1656.1,1161.8 1658.0,1162.3 1659.9,1164.2 1661.8,1162.4 1663.7,1164.4 1665.6,1159.7 1667.5,1162.0 1669.4,1164.2 1671.3,1161.8 1673.2,1164.6 1675.1,1159.7 1677.0,1162.8 1678.9,1162.0 1680.8,1162.2 1682.7,1165.8 1684.6,1159.8 1686.5,1165.7 1688.4,1162.0 1690.3,1166.1 1692.2,1163.7 1694.1,1162.8 1696.0,1160.3 1697.9,1165.0 1699.8,1163.5 1701.7,1164.2 1703.6,1160.3 1705.5,1160.0 1707.4,1162.0 1709.3,1163.3 1711.2,1163.7 1713.1,1164.3 1715.0,1161.3 1716.9,1160.7 1718.8,1163.7 1720.7,1161.2 1722.6,1162.6 1724.5,1165.7 1726.4,1162.1 1728.3,1163.3 1730.2,1164.1 1732.1,1163.6 1734.0,1163.1 1735.9,1163.0 1737.8,1161.6 1739.7,1162.7 1741.6,1160.6 1743.5,1156.5 1745.4,1159.4 1747.3,1157.5 1749.2,1157.9 1751.1,1158.3 1753.0,1161.9 1754.9,1162.9 1756.8,1161.6 1758.7,1162.0 1760.6,1165.2 1762.5,1163.2 1764.4,1163.2 1766.3,1167.4 1768.2,1164.4 1770.1,1164.9 1772.0,1164.2 1773.9,1164.0 1775.8,1162.7 1777.7,1165.2 1779.6,1164.7 1781.5,1164.1 1783.4,1164.3 1785.3,1167.0 1787.2,1164.9 1789.1,1164.7 1791.0,1163.7 1792.9,1163.9 1794.8,1165.6 1796.7,1166.1 1798.6,1165.2 1800.5,1166.3 1802.4,1164.0 1804.3,1164.6 1806.2,1165.8 1808.1,1167.1 1810.0,1164.9 1811.9,1167.0 1813.8,1164.2 1815.7,1167.4 1817.6,1167.8 1819.5,1165.6 1821.4,1166.7 1823.3,1167.4 1825.2,1165.5 1827.1,1166.0 1829.0,1166.1 1830.9,1167.6 1832.8,1168.3 1834.7,1165.8 1836.6,1166.2 1838.5,1168.3 1840.4,1166.6 1842.3,1167.7 1844.2,1168.9 1846.1,1167.9 1848.0,1169.4 1849.9,1168.2 1851.8,1168.1 1853.7,1167.3 1855.6,1165.4 1857.5,1167.6 1859.4,1166.1 1861.3,1169.9 1863.2,1169.9 1865.1,1169.6 1867.0,1170.6 1868.9,1172.1 1870.8,1162.5 1872.7,1169.2 1874.6,1170.6 1876.5,1169.2 1878.4,1169.4 1880.3,1171.2 1882.2,1170.5 1884.1,1167.9 1886.0,1171.9 1887.9,1168.9 1889.8,1170.4 1891.7,1170.9 1893.6,1167.9 1895.5,1172.7 1897.4,1171.3 1899.3,1171.0 1901.2,1171.6 1903.1,1170.3 1905.0,1171.6 1906.9,1171.6 1908.8,1167.8 1910.7,1169.2 1912.6,1172.3 1914.5,1169.6 1916.4,1170.2 1918.3,1170.9 1920.2,1172.2 1922.1,1168.9 1924.0,1171.5 1925.9,1171.5 1927.8,1171.9 1929.7,1171.9 1931.6,1171.8 1933.5,1172.2 1935.4,1172.4 1937.3,1171.1 1939.2,1173.9 1941.1,1172.0 1943.0,1171.2 1944.9,1173.0 1946.8,1170.2 1948.7,1173.7 1950.6,1171.8 1952.5,1172.5 1954.4,1172.5 1956.3,1173.1 1958.2,1170.6 1960.1,1172.0 1962.0,1173.2 1963.9,1171.9 1965.8,1175.3 1967.7,1172.7 1969.6,1172.4 1971.5,1172.0 1973.4,1171.9 1975.3,1172.5 1977.2,1171.5 1979.1,1171.7 1981.0,1176.9 1982.9,1173.4 1984.8,1174.7 1986.7,1173.9 1988.6,1174.6 1990.5,1173.8 1992.4,1175.1 1994.3,1174.1 1996.2,1174.2 1998.1,1172.3 2000.0,1175.3 2001.9,1173.8 2003.8,1174.1 2005.7,1174.7 2007.6,1174.6 2009.5,1174.3 2011.4,1176.1 2013.3,1173.3 2015.2,1174.4 2017.1,1174.2 2019.0,1171.7 2020.9,1174.5 2022.8,1176.5 2024.7,1176.9 2026.6,1173.5 2028.5,1175.5 2030.4,1173.4 2032.3,1175.5 2034.2,1177.0 2036.1,1174.4 2038.0,1177.3 2039.9,1175.7 2041.8,1178.9 2043.7,1174.7 2045.6,1174.4 2047.5,1177.4 2049.4,1174.3 2051.3,1176.6 2053.2,1174.8 2055.1,1176.1 2057.0,1175.3 2058.9,1178.1 2060.8,1177.0 2062.7,1175.3 2064.6,1175.2 2066.5,1174.4"/>
<polyline fill="none" stroke="#ff00ff" stroke-width="3.4" stroke-linejoin="round" points="157.0,1050.3 158.9,1051.0 160.8,1054.4 162.7,1055.2 164.6,1057.0 166.5,1054.6 168.4,1056.4 170.3,1063.6 172.2,1056.3 174.1,1063.9 176.0,1063.1 177.9,1064.5 179.8,1063.3 181.7,1064.0 183.6,1066.9 185.5,1065.5 187.4,1066.7 189.3,1067.1 191.2,1069.8 193.1,1069.6 195.0,1070.0 196.9,1073.3 198.8,1073.3 200.7,1070.5 202.6,1074.6 204.5,1079.1 206.4,1077.6 208.3,1075.3 210.2,1074.3 212.1,1080.2 214.0,1075.4 215.9,1082.4 217.8,1083.4 219.7,1082.1 221.6,1084.3 223.5,1082.0 225.4,1083.0 227.3,1084.5 229.2,1088.0 231.1,1090.1 233.0,1085.7 234.9,1086.0 236.8,1088.9 238.7,1086.5 240.6,1086.7 242.5,1091.8 244.4,1089.8 246.3,1095.3 248.2,1089.9 250.1,1096.2 252.0,1096.1 253.9,1093.0 255.8,1094.8 257.7,1088.5 259.6,1094.1 261.5,1095.9 263.4,1094.3 265.3,1099.8 267.2,1091.3 269.1,1098.8 271.0,1097.5 272.9,1098.0 274.8,1094.0 276.7,1099.0 278.6,1096.3 280.5,1097.9 282.4,1099.6 284.3,1095.3 286.2,1090.6 288.1,1097.9 290.0,1097.6 291.9,1096.3 293.8,1095.2 295.7,1094.4 297.6,1096.7 299.5,1097.7 301.4,1095.1 303.3,1099.0 305.2,1097.0 307.1,1097.1 309.0,1094.9 310.9,1094.9 312.8,1096.8 314.7,1095.6 316.6,1096.3 318.5,1095.6 320.4,1092.4 322.3,1093.4 324.2,1092.1 326.1,1091.3 328.0,1091.4 329.9,1089.0 331.8,1088.3 333.7,1088.4 335.6,1084.2 337.5,1087.6 339.4,1087.2 341.3,1078.9 343.2,1084.7 345.1,1080.2 347.0,1078.9 348.9,1081.4 350.8,1076.5 352.7,1078.2 354.6,1074.8 356.5,1072.2 358.4,1078.5 360.3,1070.8 362.2,1068.5 364.1,1069.3 366.0,1073.4 367.9,1063.4 369.8,1068.8 371.7,1062.5 373.6,1063.2 375.5,1060.7 377.4,1061.8 379.3,1055.4 381.2,1060.4 383.1,1052.7 385.0,1048.2 386.9,1050.6 388.8,1050.5 390.7,1048.5 392.6,1047.6 394.5,1042.9 396.4,1045.9 398.3,1042.9 400.2,1036.7 402.1,1036.8 404.0,1034.6 405.9,1034.6 407.8,1034.7 409.7,1031.6 411.6,1031.1 413.5,1032.3 415.4,1031.4 417.3,1031.7 419.2,1017.6 421.1,1023.2 423.0,1021.6 424.9,1020.6 426.8,1018.0 428.7,1016.1 430.6,1018.9 432.5,1018.5 434.4,1009.7 436.3,1012.9 438.2,1002.4 440.1,1008.3 442.0,1009.8 443.9,1006.0 445.8,999.3 447.7,997.9 449.6,998.5 451.5,1002.4 453.4,998.9 455.3,997.7 457.2,997.9 459.1,992.4 461.0,988.5 462.9,992.6 464.8,992.4 466.7,994.3 468.6,993.2 470.5,1002.4 472.4,991.2 474.3,990.7 476.2,996.7 478.1,992.7 480.0,998.5 481.9,998.6 483.8,995.7 485.7,995.8 487.6,989.1 489.5,998.2 491.4,995.3 493.3,997.0 495.2,998.6 497.1,996.5 499.0,993.8 500.9,995.6 502.8,994.9 504.7,1001.5 506.6,999.6 508.5,997.7 510.4,1000.7 512.3,1003.0 514.2,1001.4 516.1,1006.7 518.0,1004.7 519.9,1010.3 521.8,1010.4 523.7,1014.1 525.6,1017.6 527.5,1017.5 529.4,1018.2 531.3,1021.8 533.2,1020.6 535.1,1022.8 537.0,1025.9 538.9,1022.7 540.8,1026.7 542.7,1036.4 544.6,1033.3 546.5,1035.2 548.4,1038.3 550.3,1038.3 552.2,1039.6 554.1,1035.3 556.0,1047.5 557.9,1050.9 559.8,1046.1 561.7,1049.8 563.6,1058.4 565.5,1050.5 567.4,1055.4 569.3,1059.6 571.2,1061.5 573.1,1067.3 575.0,1061.0 576.9,1063.4 578.8,1066.0 580.7,1067.4 582.6,1071.1 584.5,1069.8 586.4,1067.0 588.3,1070.9 590.2,1070.3 592.1,1076.1 594.0,1080.8 595.9,1080.6 597.8,1079.6 599.7,1077.5 601.6,1083.9 603.5,1083.9 605.4,1085.5 607.3,1088.6 609.2,1095.8 611.1,1090.6 613.0,1091.4 614.9,1091.2 616.8,1098.2 618.7,1095.2 620.6,1094.4 622.5,1099.1 624.4,1102.3 626.3,1100.1 628.2,1104.1 630.1,1101.8 632.0,1109.8 633.9,1105.5 635.8,1109.4 637.7,1108.6 639.6,1110.8 641.5,1114.0 643.4,1113.2 645.3,1115.6 647.2,1119.8 649.1,1124.1 651.0,1121.5 652.9,1120.9 654.8,1122.6 656.7,1120.6 658.6,1122.2 660.5,1123.5 662.4,1128.1 664.3,1128.2 666.2,1128.9 668.1,1136.0 670.0,1132.1 671.9,1135.1 673.8,1135.5 675.7,1135.8 677.6,1137.9 679.5,1134.8 681.4,1139.3 683.3,1142.3 685.2,1144.7 687.1,1141.7 689.0,1146.1 690.9,1152.0 692.8,1144.2 694.7,1142.5 696.6,1147.3 698.5,1146.2 700.4,1150.7 702.3,1150.0 704.2,1147.5 706.1,1149.8 708.0,1152.3 709.9,1154.9 711.8,1147.8 713.7,1154.7 715.6,1153.2 717.5,1154.6 719.4,1154.0 721.3,1156.7 723.2,1157.7 725.1,1161.2 727.0,1160.9 728.9,1157.4 730.8,1155.1 732.7,1159.6 734.6,1159.6 736.5,1161.5 738.4,1160.4 740.3,1161.2 742.2,1164.5 744.1,1164.1 746.0,1162.8 747.9,1165.5 749.8,1163.5 751.7,1165.9 753.6,1168.2 755.5,1165.8 757.4,1164.6 759.3,1168.0 761.2,1167.3 763.1,1171.9 765.0,1168.6 766.9,1167.9 768.8,1167.1 770.7,1165.2 772.6,1168.2 774.5,1170.2 776.4,1168.5 778.3,1173.3 780.2,1172.5 782.1,1172.3 784.0,1169.9 785.9,1169.8 787.8,1173.1 789.7,1170.4 791.6,1172.1 793.5,1171.0 795.4,1174.7 797.3,1168.7 799.2,1174.5 801.1,1174.2 803.0,1175.6 804.9,1173.5 806.8,1174.8 808.7,1169.0 810.6,1171.0 812.5,1170.0 814.4,1172.7 816.3,1173.5 818.2,1173.2 820.1,1174.5 822.0,1174.8 823.9,1167.9 825.8,1172.5 827.7,1172.5 829.6,1173.6 831.5,1170.9 833.4,1173.9 835.3,1172.4 837.2,1174.8 839.1,1171.0 841.0,1171.9 842.9,1169.6 844.8,1170.3 846.7,1171.4 848.6,1170.9 850.5,1172.5 852.4,1172.6 854.3,1171.6 856.2,1171.5 858.1,1169.1 860.0,1170.1 861.9,1170.2 863.8,1169.0 865.7,1171.5 867.6,1170.7 869.5,1167.7 871.4,1168.0 873.3,1168.3 875.2,1168.1 877.1,1170.4 879.0,1166.6 880.9,1165.4 882.8,1170.5 884.7,1166.9 886.6,1167.5 888.5,1162.8 890.4,1163.7 892.3,1164.1 894.2,1163.4 896.1,1159.4 898.0,1162.5 899.9,1163.8 901.8,1161.4 903.7,1159.1 905.6,1156.6 907.5,1155.9 909.4,1157.0 911.3,1154.8 913.2,1154.1 915.1,1151.6 917.0,1155.2 918.9,1155.4 920.8,1153.1 922.7,1154.1 924.6,1152.9 926.5,1155.8 928.4,1152.1 930.3,1152.1 932.2,1149.6 934.1,1151.9 936.0,1151.1 937.9,1150.8 939.8,1154.7 941.7,1153.2 943.6,1153.6 945.5,1152.0 947.4,1149.3 949.3,1151.0 951.2,1152.6 953.1,1148.4 955.0,1149.1 956.9,1148.6 958.8,1149.7 960.7,1146.6 962.6,1146.5 964.5,1144.6 966.4,1140.9 968.3,1139.8 970.2,1134.8 972.1,1134.5 974.0,1135.1 975.9,1134.4 977.8,1134.8 979.7,1135.9 981.6,1140.1 983.5,1143.2 985.4,1146.0 987.3,1146.8 989.2,1159.5 991.1,1161.8 993.0,1159.4 994.9,1167.0 996.8,1166.6 998.7,1172.0 1000.6,1170.7 1002.5,1174.4 1004.4,1175.7 1006.3,1179.9 1008.2,1182.0 1010.1,1182.3 1012.0,1179.6 1013.9,1183.6 1015.8,1184.8 1017.7,1189.7 1019.6,1188.5 1021.5,1186.9 1023.4,1191.7 1025.3,1190.7 1027.2,1195.0 1029.1,1193.1 1031.0,1197.0 1032.9,1194.5 1034.8,1203.8 1036.7,1199.1 1038.6,1201.3 1040.5,1200.5 1042.4,1205.2 1044.3,1202.1 1046.2,1204.3 1048.1,1203.7 1050.0,1206.6 1051.9,1202.3 1053.8,1203.0 1055.7,1207.1 1057.6,1205.5 1059.5,1205.7 1061.4,1208.7 1063.3,1208.4 1065.2,1204.7 1067.1,1209.6 1069.0,1209.0 1070.9,1208.6 1072.8,1212.1 1074.7,1212.3 1076.6,1214.1 1078.5,1211.3 1080.4,1211.1 1082.3,1217.4 1084.2,1214.9 1086.1,1215.1 1088.0,1212.9 1089.9,1214.0 1091.8,1216.5 1093.7,1210.6 1095.6,1213.8 1097.5,1216.8 1099.4,1208.0 1101.3,1218.2 1103.2,1217.0 1105.1,1214.9 1107.0,1218.0 1108.9,1218.4 1110.8,1218.6 1112.7,1220.0 1114.6,1216.8 1116.5,1218.9 1118.4,1220.9 1120.3,1220.8 1122.2,1221.1 1124.1,1225.6 1126.0,1220.7 1127.9,1220.7 1129.8,1222.9 1131.7,1221.8 1133.6,1223.8 1135.5,1222.1 1137.4,1225.2 1139.3,1221.1 1141.2,1221.4 1143.1,1227.4 1145.0,1220.9 1146.9,1221.1 1148.8,1219.7 1150.7,1218.8 1152.6,1214.3 1154.5,1216.9 1156.4,1215.1 1158.3,1215.4 1160.2,1214.0 1162.1,1217.0 1164.0,1218.7 1165.9,1219.5 1167.8,1221.4 1169.7,1222.6 1171.6,1223.6 1173.5,1226.2 1175.4,1226.3 1177.3,1227.5 1179.2,1229.2 1181.1,1230.7 1183.0,1232.4 1184.9,1231.9 1186.8,1230.7 1188.7,1229.6 1190.6,1231.7 1192.5,1229.9 1194.4,1230.2 1196.3,1229.0 1198.2,1234.2 1200.1,1234.3 1202.0,1231.1 1203.9,1233.2 1205.8,1233.9 1207.7,1236.0 1209.6,1236.1 1211.5,1232.8 1213.4,1234.9 1215.3,1232.3 1217.2,1234.8 1219.1,1233.8 1221.0,1235.1 1222.9,1234.1 1224.8,1235.5 1226.7,1238.9 1228.6,1237.1 1230.5,1235.5 1232.4,1238.7 1234.3,1238.8 1236.2,1237.3 1238.1,1245.2 1240.0,1240.6 1241.9,1239.0 1243.8,1239.4 1245.7,1239.1 1247.6,1240.4 1249.5,1240.2 1251.4,1241.8 1253.3,1237.8 1255.2,1242.0 1257.1,1240.6 1259.0,1243.2 1260.9,1243.0 1262.8,1241.2 1264.7,1241.6 1266.6,1241.1 1268.5,1240.5 1270.4,1241.9 1272.3,1243.5 1274.2,1242.1 1276.1,1240.6 1278.0,1242.7 1279.9,1242.5 1281.8,1243.0 1283.7,1244.1 1285.6,1244.6 1287.5,1245.0 1289.4,1242.2 1291.3,1239.8 1293.2,1243.6 1295.1,1243.4 1297.0,1245.0 1298.9,1245.0 1300.8,1245.4 1302.7,1244.3 1304.6,1245.6 1306.5,1243.4 1308.4,1241.3 1310.3,1245.1 1312.2,1244.9 1314.1,1244.0 1316.0,1246.7 1317.9,1244.8 1319.8,1244.0 1321.7,1245.5 1323.6,1247.8 1325.5,1243.7 1327.4,1246.7 1329.3,1243.7 1331.2,1246.7 1333.1,1245.0 1335.0,1245.2 1336.9,1246.9 1338.8,1249.7 1340.7,1243.6 1342.6,1246.7 1344.5,1245.2 1346.4,1248.2 1348.3,1246.7 1350.2,1245.4 1352.1,1248.1 1354.0,1247.9 1355.9,1246.9 1357.8,1248.4 1359.7,1247.8 1361.6,1248.8 1363.5,1246.0 1365.4,1248.7 1367.3,1249.2 1369.2,1246.7 1371.1,1253.2 1373.0,1249.0 1374.9,1248.8 1376.8,1247.7 1378.7,1248.3 1380.6,1248.7 1382.5,1249.6 1384.4,1247.1 1386.3,1247.5 1388.2,1251.7 1390.1,1247.4 1392.0,1252.4 1393.9,1254.2 1395.8,1247.6 1397.7,1248.6 1399.6,1252.4 1401.5,1250.4 1403.4,1248.7 1405.3,1252.1 1407.2,1251.1 1409.1,1249.5 1411.0,1248.9 1412.9,1248.4 1414.8,1250.8 1416.7,1251.5 1418.6,1253.1 1420.5,1253.2 1422.4,1252.5 1424.3,1247.7 1426.2,1250.3 1428.1,1252.0 1430.0,1250.9 1431.9,1251.5 1433.8,1250.8 1435.7,1251.4 1437.6,1252.9 1439.5,1252.3 1441.4,1249.5 1443.3,1250.9 1445.2,1250.0 1447.1,1249.3 1449.0,1253.1 1450.9,1251.7 1452.8,1255.3 1454.7,1252.8 1456.6,1252.6 1458.5,1251.2 1460.4,1250.9 1462.3,1253.1 1464.2,1251.3 1466.1,1254.3 1468.0,1253.5 1469.9,1253.5 1471.8,1252.4 1473.7,1250.8 1475.6,1253.9 1477.5,1251.4 1479.4,1252.2 1481.3,1253.4 1483.2,1251.8 1485.1,1251.7 1487.0,1250.4 1488.9,1253.9 1490.8,1254.9 1492.7,1251.2 1494.6,1254.1 1496.5,1255.3 1498.4,1255.1 1500.3,1254.1 1502.2,1251.7 1504.1,1250.6 1506.0,1251.7 1507.9,1253.5 1509.8,1254.8 1511.7,1254.7 1513.6,1252.7 1515.5,1253.5 1517.4,1252.3 1519.3,1250.4 1521.2,1252.0 1523.1,1254.5 1525.0,1254.2 1526.9,1253.3 1528.8,1253.2 1530.7,1256.5 1532.6,1253.9 1534.5,1252.8 1536.4,1251.3 1538.3,1252.4 1540.2,1253.9 1542.1,1252.6 1544.0,1254.1 1545.9,1252.8 1547.8,1257.4 1549.7,1253.0 1551.6,1254.9 1553.5,1252.6 1555.4,1254.1 1557.3,1255.0 1559.2,1254.1 1561.1,1251.4 1563.0,1256.0 1564.9,1254.9 1566.8,1252.7 1568.7,1253.3 1570.6,1254.9 1572.5,1252.9 1574.4,1255.0 1576.3,1252.3 1578.2,1254.0 1580.1,1255.4 1582.0,1253.7 1583.9,1254.5 1585.8,1254.9 1587.7,1256.5 1589.6,1256.2 1591.5,1254.8 1593.4,1254.9 1595.3,1254.0 1597.2,1254.0 1599.1,1254.0 1601.0,1254.8 1602.9,1255.9 1604.8,1254.3 1606.7,1253.5 1608.6,1253.5 1610.5,1254.6 1612.4,1255.4 1614.3,1253.9 1616.2,1253.3 1618.1,1255.1 1620.0,1256.2 1621.9,1253.4 1623.8,1254.2 1625.7,1252.1 1627.6,1258.3 1629.5,1253.3 1631.4,1253.1 1633.3,1255.1 1635.2,1254.3 1637.1,1255.8 1639.0,1253.5 1640.9,1254.8 1642.8,1254.9 1644.7,1255.2 1646.6,1257.1 1648.5,1254.3 1650.4,1253.1 1652.3,1254.8 1654.2,1253.0 1656.1,1255.3 1658.0,1254.3 1659.9,1253.9 1661.8,1251.4 1663.7,1251.4 1665.6,1252.6 1667.5,1251.2 1669.4,1250.2 1671.3,1252.4 1673.2,1255.6 1675.1,1252.0 1677.0,1254.1 1678.9,1253.0 1680.8,1254.8 1682.7,1251.5 1684.6,1253.0 1686.5,1248.3 1688.4,1251.0 1690.3,1253.5 1692.2,1251.4 1694.1,1251.2 1696.0,1250.1 1697.9,1254.2 1699.8,1253.6 1701.7,1251.6 1703.6,1252.1 1705.5,1248.3 1707.4,1249.5 1709.3,1252.9 1711.2,1250.5 1713.1,1247.4 1715.0,1252.6 1716.9,1250.9 1718.8,1249.2 1720.7,1251.3 1722.6,1250.2 1724.5,1250.5 1726.4,1249.5 1728.3,1249.8 1730.2,1249.3 1732.1,1247.2 1734.0,1251.0 1735.9,1247.8 1737.8,1243.2 1739.7,1247.6 1741.6,1243.5 1743.5,1245.7 1745.4,1247.1 1747.3,1244.4 1749.2,1244.8 1751.1,1247.0 1753.0,1246.7 1754.9,1247.2 1756.8,1246.9 1758.7,1247.8 1760.6,1245.6 1762.5,1248.2 1764.4,1248.3 1766.3,1249.8 1768.2,1250.8 1770.1,1248.5 1772.0,1249.5 1773.9,1247.7 1775.8,1250.8 1777.7,1253.4 1779.6,1251.6 1781.5,1250.4 1783.4,1251.8 1785.3,1251.5 1787.2,1250.1 1789.1,1250.7 1791.0,1251.7 1792.9,1253.3 1794.8,1251.3 1796.7,1251.3 1798.6,1250.4 1800.5,1252.4 1802.4,1251.0 1804.3,1255.2 1806.2,1252.8 1808.1,1248.4 1810.0,1254.9 1811.9,1253.4 1813.8,1253.0 1815.7,1253.4 1817.6,1252.4 1819.5,1252.1 1821.4,1259.5 1823.3,1253.4 1825.2,1254.3 1827.1,1255.1 1829.0,1254.5 1830.9,1255.3 1832.8,1255.6 1834.7,1253.2 1836.6,1253.1 1838.5,1253.4 1840.4,1256.9 1842.3,1252.9 1844.2,1255.8 1846.1,1253.9 1848.0,1258.8 1849.9,1253.4 1851.8,1253.7 1853.7,1254.8 1855.6,1254.1 1857.5,1256.8 1859.4,1257.2 1861.3,1257.4 1863.2,1259.1 1865.1,1254.9 1867.0,1256.6 1868.9,1255.9 1870.8,1255.5 1872.7,1257.1 1874.6,1259.8 1876.5,1255.5 1878.4,1260.0 1880.3,1257.5 1882.2,1256.5 1884.1,1255.5 1886.0,1258.5 1887.9,1257.6 1889.8,1257.3 1891.7,1256.7 1893.6,1257.4 1895.5,1257.2 1897.4,1258.0 1899.3,1255.3 1901.2,1258.3 1903.1,1259.5 1905.0,1259.3 1906.9,1256.3 1908.8,1258.5 1910.7,1258.8 1912.6,1260.1 1914.5,1259.8 1916.4,1260.1 1918.3,1258.6 1920.2,1259.8 1922.1,1258.8 1924.0,1258.6 1925.9,1257.0 1927.8,1259.7 1929.7,1259.0 1931.6,1257.2 1933.5,1261.3 1935.4,1259.0 1937.3,1260.2 1939.2,1260.2 1941.1,1259.6 1943.0,1260.2 1944.9,1261.3 1946.8,1259.1 1948.7,1258.4 1950.6,1261.8 1952.5,1261.2 1954.4,1259.6 1956.3,1262.2 1958.2,1259.1 1960.1,1261.1 1962.0,1261.5 1963.9,1261.2 1965.8,1261.9 1967.7,1260.7 1969.6,1259.3 1971.5,1260.8 1973.4,1262.5 1975.3,1261.9 1977.2,1261.9 1979.1,1261.7 1981.0,1263.7 1982.9,1261.6 1984.8,1262.9 1986.7,1263.0 1988.6,1261.5 1990.5,1266.6 1992.4,1263.6 1994.3,1263.9 1996.2,1261.4 1998.1,1265.0 2000.0,1263.0 2001.9,1263.6 2003.8,1264.3 2005.7,1265.1 2007.6,1263.3 2009.5,1264.6 2011.4,1264.4 2013.3,1264.4 2015.2,1264.6 2017.1,1263.5 2019.0,1264.8 2020.9,1266.7 2022.8,1263.8 2024.7,1263.1 2026.6,1267.4 2028.5,1263.8 2030.4,1265.3 2032.3,1265.1 2034.2,1266.4 2036.1,1265.7 2038.0,1267.0 2039.9,1265.9 2041.8,1265.2 2043.7,1270.1 2045.6,1267.1 2047.5,1267.8 2049.4,1265.6 2051.3,1266.5 2053.2,1267.0 2055.1,1269.1 2057.0,1266.9 2058.9,1268.8 2060.8,1267.9 2062.7,1267.6 2064.6,1269.6 2066.5,1269.2"/>
<polyline fill="none" stroke="#909010" stroke-width="3.4" stroke-linejoin="round" points="157.0,1156.4 158.9,1153.4 160.8,1157.8 162.7,1155.4 164.6,1151.4 166.5,1151.2 168.4,1156.4 170.3,1156.7 172.2,1152.4 174.1,1157.0 176.0,1156.3 177.9,1159.1 179.8,1155.9 181.7,1158.3 183.6,1158.1 185.5,1160.3 187.4,1162.0 189.3,1165.1 191.2,1156.6 193.1,1162.0 195.0,1159.8 196.9,1160.1 198.8,1159.5 200.7,1163.6 202.6,1166.2 204.5,1166.5 206.4,1168.8 208.3,1169.8 210.2,1171.6 212.1,1174.1 214.0,1175.2 215.9,1173.9 217.8,1173.3 219.7,1172.3 221.6,1173.1 223.5,1179.0 225.4,1176.6 227.3,1182.1 229.2,1180.3 231.1,1180.8 233.0,1183.2 234.9,1185.2 236.8,1190.0 238.7,1185.8 240.6,1186.4 242.5,1189.2 244.4,1191.3 246.3,1189.1 248.2,1188.6 250.1,1191.6 252.0,1191.5 253.9,1192.3 255.8,1188.4 257.7,1193.6 259.6,1192.6 261.5,1198.4 263.4,1192.5 265.3,1194.3 267.2,1193.0 269.1,1198.7 271.0,1190.4 272.9,1191.6 274.8,1192.1 276.7,1186.9 278.6,1192.6 280.5,1197.5 282.4,1195.2 284.3,1195.8 286.2,1192.7 288.1,1191.2 290.0,1187.3 291.9,1189.0 293.8,1187.6 295.7,1193.8 297.6,1190.8 299.5,1193.7 301.4,1186.7 303.3,1189.8 305.2,1185.6 307.1,1192.4 309.0,1188.4 310.9,1185.2 312.8,1184.7 314.7,1189.5 316.6,1183.3 318.5,1184.7 320.4,1184.5 322.3,1181.4 324.2,1186.7 326.1,1186.7 328.0,1180.2 329.9,1181.2 331.8,1181.7 333.7,1180.6 335.6,1180.0 337.5,1174.6 339.4,1176.6 341.3,1172.1 343.2,1174.3 345.1,1174.8 347.0,1174.5 348.9,1161.3 350.8,1170.8 352.7,1165.6 354.6,1169.1 356.5,1167.7 358.4,1165.9 360.3,1166.6 362.2,1163.6 364.1,1159.6 366.0,1159.3 367.9,1159.7 369.8,1153.1 371.7,1155.2 373.6,1159.6 375.5,1149.9 377.4,1154.2 379.3,1152.2 381.2,1150.5 383.1,1145.6 385.0,1143.2 386.9,1143.9 388.8,1141.8 390.7,1141.2 392.6,1135.0 394.5,1136.6 396.4,1136.1 398.3,1128.5 400.2,1129.4 402.1,1126.9 404.0,1124.1 405.9,1125.0 407.8,1119.6 409.7,1119.8 411.6,1116.7 413.5,1115.4 415.4,1110.4 417.3,1107.1 419.2,1108.8 421.1,1105.2 423.0,1106.1 424.9,1100.2 426.8,1098.5 428.7,1100.7 430.6,1097.6 432.5,1095.5 434.4,1096.5 436.3,1092.7 438.2,1092.6 440.1,1092.4 442.0,1086.2 443.9,1091.4 445.8,1087.4 447.7,1085.5 449.6,1085.1 451.5,1088.9 453.4,1077.6 455.3,1082.0 457.2,1079.3 459.1,1084.3 461.0,1082.6 462.9,1075.6 464.8,1077.1 466.7,1078.4 468.6,1075.5 470.5,1073.3 472.4,1070.0 474.3,1070.1 476.2,1075.7 478.1,1075.0 480.0,1073.8 481.9,1073.6 483.8,1081.0 485.7,1075.5 487.6,1078.6 489.5,1077.5 491.4,1072.9 493.3,1073.5 495.2,1078.6 497.1,1076.0 499.0,1081.5 500.9,1078.5 502.8,1081.9 504.7,1078.9 506.6,1083.7 508.5,1081.5 510.4,1083.6 512.3,1082.4 514.2,1081.7 516.1,1085.3 518.0,1091.2 519.9,1092.9 521.8,1089.3 523.7,1092.3 525.6,1093.4 527.5,1100.6 529.4,1098.2 531.3,1099.3 533.2,1105.0 535.1,1103.6 537.0,1108.2 538.9,1110.4 540.8,1108.3 542.7,1106.8 544.6,1112.3 546.5,1120.5 548.4,1111.6 550.3,1121.5 552.2,1117.8 554.1,1118.7 556.0,1127.0 557.9,1123.7 559.8,1121.0 561.7,1125.0 563.6,1126.6 565.5,1131.2 567.4,1138.2 569.3,1139.6 571.2,1139.5 573.1,1142.9 575.0,1142.2 576.9,1142.2 578.8,1148.9 580.7,1150.6 582.6,1155.7 584.5,1156.4 586.4,1160.6 588.3,1158.8 590.2,1160.9 592.1,1162.5 594.0,1163.4 595.9,1169.9 597.8,1162.8 599.7,1167.9 601.6,1171.0 603.5,1178.6 605.4,1181.3 607.3,1184.9 609.2,1179.3 611.1,1184.3 613.0,1182.1 614.9,1181.0 616.8,1185.5 618.7,1184.4 620.6,1188.0 622.5,1195.2 624.4,1192.8 626.3,1197.4 628.2,1196.6 630.1,1195.3 632.0,1198.4 633.9,1197.2 635.8,1197.9 637.7,1207.9 639.6,1201.2 641.5,1200.3 643.4,1205.5 645.3,1205.8 647.2,1207.4 649.1,1213.9 651.0,1213.4 652.9,1215.8 654.8,1214.1 656.7,1213.6 658.6,1215.1 660.5,1222.0 662.4,1213.4 664.3,1219.5 666.2,1222.1 668.1,1219.7 670.0,1228.0 671.9,1223.3 673.8,1226.1 675.7,1233.2 677.6,1230.1 679.5,1228.9 681.4,1230.2 683.3,1234.5 685.2,1236.4 687.1,1234.6 689.0,1230.7 690.9,1234.5 692.8,1238.6 694.7,1236.0 696.6,1243.7 698.5,1237.6 700.4,1239.7 702.3,1243.5 704.2,1243.9 706.1,1241.4 708.0,1247.0 709.9,1242.6 711.8,1248.3 713.7,1249.0 715.6,1245.6 717.5,1245.4 719.4,1251.8 721.3,1251.9 723.2,1251.8 725.1,1250.5 727.0,1253.4 728.9,1252.0 730.8,1255.3 732.7,1258.7 734.6,1254.4 736.5,1257.2 738.4,1254.1 740.3,1256.8 742.2,1256.2 744.1,1257.8 746.0,1256.8 747.9,1254.5 749.8,1260.1 751.7,1256.3 753.6,1260.9 755.5,1256.9 757.4,1261.0 759.3,1260.5 761.2,1259.1 763.1,1262.2 765.0,1261.1 766.9,1263.9 768.8,1262.5 770.7,1263.8 772.6,1257.9 774.5,1264.6 776.4,1261.8 778.3,1262.0 780.2,1260.2 782.1,1261.5 784.0,1262.5 785.9,1263.4 787.8,1263.6 789.7,1263.0 791.6,1264.2 793.5,1265.7 795.4,1263.3 797.3,1263.2 799.2,1266.6 801.1,1265.6 803.0,1265.3 804.9,1266.5 806.8,1266.3 808.7,1269.8 810.6,1267.6 812.5,1266.3 814.4,1266.4 816.3,1266.8 818.2,1267.1 820.1,1267.1 822.0,1267.5 823.9,1270.5 825.8,1266.9 827.7,1272.3 829.6,1267.7 831.5,1267.4 833.4,1272.0 835.3,1270.2 837.2,1269.7 839.1,1272.0 841.0,1270.6 842.9,1271.9 844.8,1271.2 846.7,1272.2 848.6,1270.5 850.5,1273.2 852.4,1271.2 854.3,1272.0 856.2,1267.7 858.1,1272.3 860.0,1270.1 861.9,1270.5 863.8,1269.9 865.7,1269.1 867.6,1268.0 869.5,1271.1 871.4,1268.0 873.3,1268.1 875.2,1267.4 877.1,1266.3 879.0,1269.2 880.9,1265.5 882.8,1266.9 884.7,1264.4 886.6,1262.8 888.5,1262.3 890.4,1265.6 892.3,1260.7 894.2,1261.3 896.1,1262.3 898.0,1264.1 899.9,1261.3 901.8,1264.2 903.7,1261.4 905.6,1260.8 907.5,1263.7 909.4,1261.3 911.3,1259.1 913.2,1258.5 915.1,1260.7 917.0,1261.4 918.9,1258.0 920.8,1257.9 922.7,1260.0 924.6,1256.5 926.5,1258.4 928.4,1261.8 930.3,1257.1 932.2,1255.5 934.1,1252.7 936.0,1256.7 937.9,1257.4 939.8,1257.2 941.7,1255.5 943.6,1255.5 945.5,1258.7 947.4,1257.0 949.3,1253.4 951.2,1256.2 953.1,1253.1 955.0,1250.3 956.9,1251.6 958.8,1249.5 960.7,1249.0 962.6,1246.1 964.5,1242.5 966.4,1234.7 968.3,1230.4 970.2,1221.6 972.1,1220.0 974.0,1215.4 975.9,1211.2 977.8,1219.0 979.7,1224.2 981.6,1227.5 983.5,1233.5 985.4,1243.5 987.3,1250.3 989.2,1254.7 991.1,1261.7 993.0,1266.8 994.9,1263.2 996.8,1268.1 998.7,1270.0 1000.6,1276.4 1002.5,1272.1 1004.4,1277.6 1006.3,1279.5 1008.2,1281.2 1010.1,1281.5 1012.0,1285.3 1013.9,1284.2 1015.8,1286.3 1017.7,1283.7 1019.6,1286.0 1021.5,1286.9 1023.4,1290.4 1025.3,1288.6 1027.2,1290.9 1029.1,1291.0 1031.0,1287.7 1032.9,1293.5 1034.8,1298.1 1036.7,1292.3 1038.6,1297.3 1040.5,1294.1 1042.4,1296.2 1044.3,1297.4 1046.2,1299.8 1048.1,1298.8 1050.0,1299.6 1051.9,1301.6 1053.8,1302.3 1055.7,1301.0 1057.6,1302.6 1059.5,1304.6 1061.4,1303.8 1063.3,1301.9 1065.2,1304.2 1067.1,1302.1 1069.0,1308.7 1070.9,1306.0 1072.8,1307.3 1074.7,1306.0 1076.6,1307.9 1078.5,1308.9 1080.4,1308.0 1082.3,1305.0 1084.2,1307.7 1086.1,1311.1 1088.0,1312.1 1089.9,1311.0 1091.8,1311.3 1093.7,1311.6 1095.6,1310.9 1097.5,1311.5 1099.4,1313.4 1101.3,1313.2 1103.2,1315.4 1105.1,1312.3 1107.0,1315.0 1108.9,1312.5 1110.8,1316.3 1112.7,1314.3 1114.6,1315.3 1116.5,1314.0 1118.4,1315.1 1120.3,1314.2 1122.2,1315.7 1124.1,1312.7 1126.0,1317.2 1127.9,1315.6 1129.8,1316.1 1131.7,1314.6 1133.6,1315.2 1135.5,1312.8 1137.4,1311.9 1139.3,1312.0 1141.2,1309.6 1143.1,1312.2 1145.0,1307.5 1146.9,1309.0 1148.8,1307.2 1150.7,1308.7 1152.6,1309.0 1154.5,1306.6 1156.4,1308.8 1158.3,1308.1 1160.2,1308.6 1162.1,1306.7 1164.0,1309.1 1165.9,1313.7 1167.8,1314.9 1169.7,1318.1 1171.6,1315.4 1173.5,1318.9 1175.4,1316.8 1177.3,1319.1 1179.2,1319.9 1181.1,1321.7 1183.0,1324.1 1184.9,1326.7 1186.8,1325.6 1188.7,1324.2 1190.6,1328.7 1192.5,1327.8 1194.4,1325.5 1196.3,1330.3 1198.2,1328.8 1200.1,1330.3 1202.0,1328.6 1203.9,1329.1 1205.8,1330.8 1207.7,1325.5 1209.6,1330.8 1211.5,1332.3 1213.4,1326.1 1215.3,1331.4 1217.2,1331.1 1219.1,1331.3 1221.0,1334.4 1222.9,1332.8 1224.8,1332.9 1226.7,1331.5 1228.6,1333.6 1230.5,1334.3 1232.4,1330.0 1234.3,1336.0 1236.2,1334.9 1238.1,1333.6 1240.0,1331.4 1241.9,1337.8 1243.8,1335.4 1245.7,1333.1 1247.6,1332.6 1249.5,1333.4 1251.4,1332.3 1253.3,1335.1 1255.2,1334.8 1257.1,1333.6 1259.0,1334.4 1260.9,1334.6 1262.8,1337.1 1264.7,1336.5 1266.6,1337.7 1268.5,1334.7 1270.4,1338.2 1272.3,1337.0 1274.2,1338.4 1276.1,1336.2 1278.0,1337.5 1279.9,1335.5 1281.8,1338.7 1283.7,1337.3 1285.6,1336.4 1287.5,1337.1 1289.4,1337.5 1291.3,1334.8 1293.2,1337.8 1295.1,1336.1 1297.0,1337.6 1298.9,1338.1 1300.8,1341.4 1302.7,1338.7 1304.6,1336.2 1306.5,1339.1 1308.4,1336.7 1310.3,1337.0 1312.2,1337.5 1314.1,1340.0 1316.0,1341.2 1317.9,1339.9 1319.8,1337.1 1321.7,1339.3 1323.6,1340.3 1325.5,1335.5 1327.4,1338.8 1329.3,1343.1 1331.2,1337.5 1333.1,1338.1 1335.0,1338.0 1336.9,1341.9 1338.8,1341.3 1340.7,1341.1 1342.6,1341.9 1344.5,1339.3 1346.4,1337.6 1348.3,1342.0 1350.2,1338.2 1352.1,1341.6 1354.0,1341.5 1355.9,1341.1 1357.8,1342.9 1359.7,1341.7 1361.6,1339.5 1363.5,1340.2 1365.4,1342.5 1367.3,1340.6 1369.2,1342.6 1371.1,1341.4 1373.0,1342.3 1374.9,1340.6 1376.8,1341.9 1378.7,1339.9 1380.6,1341.3 1382.5,1343.2 1384.4,1341.6 1386.3,1341.2 1388.2,1344.0 1390.1,1343.9 1392.0,1341.2 1393.9,1343.4 1395.8,1343.8 1397.7,1341.9 1399.6,1342.2 1401.5,1343.1 1403.4,1345.6 1405.3,1343.5 1407.2,1343.5 1409.1,1339.9 1411.0,1344.2 1412.9,1345.7 1414.8,1342.3 1416.7,1347.7 1418.6,1344.5 1420.5,1345.2 1422.4,1344.1 1424.3,1344.2 1426.2,1347.7 1428.1,1348.5 1430.0,1342.9 1431.9,1341.9 1433.8,1340.0 1435.7,1345.0 1437.6,1344.5 1439.5,1344.2 1441.4,1346.4 1443.3,1340.1 1445.2,1343.0 1447.1,1345.3 1449.0,1345.1 1450.9,1345.2 1452.8,1339.1 1454.7,1346.9 1456.6,1345.9 1458.5,1345.7 1460.4,1345.2 1462.3,1342.5 1464.2,1343.7 1466.1,1342.7 1468.0,1344.5 1469.9,1342.4 1471.8,1344.4 1473.7,1343.5 1475.6,1344.4 1477.5,1341.3 1479.4,1342.9 1481.3,1344.6 1483.2,1345.4 1485.1,1342.7 1487.0,1345.4 1488.9,1348.1 1490.8,1344.3 1492.7,1343.4 1494.6,1341.8 1496.5,1342.2 1498.4,1343.7 1500.3,1344.1 1502.2,1345.3 1504.1,1347.1 1506.0,1343.3 1507.9,1345.0 1509.8,1346.8 1511.7,1345.5 1513.6,1345.1 1515.5,1345.0 1517.4,1340.8 1519.3,1342.9 1521.2,1346.0 1523.1,1346.9 1525.0,1346.3 1526.9,1346.5 1528.8,1347.4 1530.7,1347.2 1532.6,1344.6 1534.5,1345.5 1536.4,1342.0 1538.3,1346.7 1540.2,1345.5 1542.1,1345.5 1544.0,1346.8 1545.9,1343.6 1547.8,1345.7 1549.7,1344.4 1551.6,1347.8 1553.5,1343.9 1555.4,1344.9 1557.3,1346.5 1559.2,1348.3 1561.1,1345.9 1563.0,1344.1 1564.9,1345.1 1566.8,1346.7 1568.7,1347.1 1570.6,1344.6 1572.5,1348.1 1574.4,1345.3 1576.3,1345.3 1578.2,1346.4 1580.1,1345.1 1582.0,1345.2 1583.9,1346.7 1585.8,1343.7 1587.7,1346.6 1589.6,1345.5 1591.5,1347.7 1593.4,1346.0 1595.3,1348.7 1597.2,1348.0 1599.1,1349.1 1601.0,1348.0 1602.9,1346.6 1604.8,1348.4 1606.7,1348.8 1608.6,1348.1 1610.5,1348.5 1612.4,1348.6 1614.3,1347.8 1616.2,1347.5 1618.1,1348.5 1620.0,1348.6 1621.9,1349.3 1623.8,1350.1 1625.7,1348.1 1627.6,1347.9 1629.5,1351.3 1631.4,1348.5 1633.3,1348.6 1635.2,1347.5 1637.1,1349.2 1639.0,1345.7 1640.9,1347.7 1642.8,1348.4 1644.7,1347.8 1646.6,1349.1 1648.5,1350.4 1650.4,1349.4 1652.3,1348.4 1654.2,1345.6 1656.1,1346.2 1658.0,1350.6 1659.9,1351.0 1661.8,1349.8 1663.7,1350.2 1665.6,1350.1 1667.5,1347.0 1669.4,1348.4 1671.3,1348.3 1673.2,1349.9 1675.1,1350.6 1677.0,1349.1 1678.9,1351.7 1680.8,1348.9 1682.7,1348.4 1684.6,1348.3 1686.5,1346.3 1688.4,1350.1 1690.3,1348.4 1692.2,1350.0 1694.1,1349.7 1696.0,1349.8 1697.9,1347.7 1699.8,1348.4 1701.7,1346.2 1703.6,1349.1 1705.5,1347.2 1707.4,1346.9 1709.3,1349.7 1711.2,1345.9 1713.1,1347.9 1715.0,1345.7 1716.9,1347.9 1718.8,1345.7 1720.7,1345.4 1722.6,1344.1 1724.5,1342.1 1726.4,1349.6 1728.3,1343.5 1730.2,1345.0 1732.1,1343.3 1734.0,1340.4 1735.9,1340.5 1737.8,1341.6 1739.7,1340.5 1741.6,1339.2 1743.5,1340.4 1745.4,1341.0 1747.3,1341.5 1749.2,1342.2 1751.1,1340.3 1753.0,1340.0 1754.9,1340.4 1756.8,1336.9 1758.7,1342.7 1760.6,1343.7 1762.5,1337.9 1764.4,1343.9 1766.3,1343.6 1768.2,1344.6 1770.1,1343.1 1772.0,1345.9 1773.9,1343.7 1775.8,1347.9 1777.7,1348.7 1779.6,1349.5 1781.5,1346.1 1783.4,1350.8 1785.3,1347.7 1787.2,1351.5 1789.1,1348.6 1791.0,1351.2 1792.9,1349.5 1794.8,1350.2 1796.7,1347.4 1798.6,1347.1 1800.5,1348.4 1802.4,1347.9 1804.3,1347.6 1806.2,1350.5 1808.1,1352.0 1810.0,1348.8 1811.9,1349.8 1813.8,1351.9 1815.7,1350.2 1817.6,1351.2 1819.5,1351.3 1821.4,1352.0 1823.3,1352.0 1825.2,1350.9 1827.1,1349.3 1829.0,1352.2 1830.9,1349.3 1832.8,1351.1 1834.7,1351.6 1836.6,1357.9 1838.5,1352.2 1840.4,1351.9 1842.3,1350.9 1844.2,1351.3 1846.1,1347.9 1848.0,1348.5 1849.9,1351.5 1851.8,1352.0 1853.7,1351.2 1855.6,1351.6 1857.5,1351.6 1859.4,1354.5 1861.3,1351.2 1863.2,1354.8 1865.1,1351.3 1867.0,1352.0 1868.9,1352.3 1870.8,1355.2 1872.7,1354.5 1874.6,1353.9 1876.5,1354.1 1878.4,1353.0 1880.3,1352.7 1882.2,1352.6 1884.1,1351.1 1886.0,1355.8 1887.9,1352.7 1889.8,1351.8 1891.7,1351.2 1893.6,1352.5 1895.5,1351.4 1897.4,1356.6 1899.3,1357.5 1901.2,1352.1 1903.1,1354.8 1905.0,1354.2 1906.9,1353.6 1908.8,1353.5 1910.7,1352.8 1912.6,1354.5 1914.5,1350.9 1916.4,1354.3 1918.3,1353.2 1920.2,1348.0 1922.1,1350.9 1924.0,1353.5 1925.9,1354.2 1927.8,1353.5 1929.7,1352.1 1931.6,1353.8 1933.5,1353.6 1935.4,1349.0 1937.3,1352.0 1939.2,1353.0 1941.1,1352.7 1943.0,1353.8 1944.9,1356.5 1946.8,1353.7 1948.7,1353.0 1950.6,1353.6 1952.5,1352.5 1954.4,1353.0 1956.3,1352.8 1958.2,1354.7 1960.1,1353.2 1962.0,1354.1 1963.9,1354.5 1965.8,1352.7 1967.7,1355.4 1969.6,1356.4 1971.5,1354.0 1973.4,1354.7 1975.3,1356.0 1977.2,1356.3 1979.1,1355.0 1981.0,1356.2 1982.9,1355.5 1984.8,1351.6 1986.7,1353.8 1988.6,1354.2 1990.5,1355.6 1992.4,1353.6 1994.3,1355.6 1996.2,1353.0 1998.1,1354.0 2000.0,1354.3 2001.9,1356.3 2003.8,1358.1 2005.7,1353.6 2007.6,1356.2 2009.5,1355.8 2011.4,1356.6 2013.3,1355.4 2015.2,1358.2 2017.1,1353.5 2019.0,1357.8 2020.9,1358.5 2022.8,1355.5 2024.7,1357.0 2026.6,1355.4 2028.5,1356.6 2030.4,1356.8 2032.3,1357.9 2034.2,1358.5 2036.1,1358.4 2038.0,1360.1 2039.9,1357.6 2041.8,1358.0 2043.7,1359.6 2045.6,1355.6 2047.5,1359.0 2049.4,1357.9 2051.3,1361.1 2053.2,1358.4 2055.1,1360.2 2057.0,1358.3 2058.9,1354.6 2060.8,1361.1 2062.7,1360.8 2064.6,1360.9 2066.5,1359.2"/>
<rect x="156.0" y="20.5" width="1913.5" height="1409.5" fill="none" stroke="#1e1e1e" stroke-width="4.6"/>
<line x1="156.0" y1="1430" x2="156.0" y2="1457.5" stroke="#1e1e1e" stroke-width="4.6"/>
<line x1="292.7" y1="1430" x2="292.7" y2="1444.5" stroke="#1e1e1e" stroke-width="4.6"/>
<line x1="429.4" y1="1430" x2="429.4" y2="1457.5" stroke="#1e1e1e" stroke-width="4.6"/>
<line x1="566.0" y1="1430" x2="566.0" y2="1444.5" stroke="#1e1e1e" stroke-width="4.6"/>
<line x1="702.7" y1="1430" x2="702.7" y2="1457.5" stroke="#1e1e1e" stroke-width="4.6"/>
<line x1="839.4" y1="1430" x2="839.4" y2="1444.5" stroke="#1e1e1e" stroke-width="4.6"/>
<line x1="976.1" y1="1430" x2="976.1" y2="1457.5" stroke="#1e1e1e" stroke-width="4.6"/>
<line x1="1112.8" y1="1430" x2="1112.8" y2="1444.5" stroke="#1e1e1e" stroke-width="4.6"/>
<line x1="1249.4" y1="1430" x2="1249.4" y2="1457.5" stroke="#1e1e1e" stroke-width="4.6"/>
<line x1="1386.1" y1="1430" x2="1386.1" y2="1444.5" stroke="#1e1e1e" stroke-width="4.6"/>
<line x1="1522.8" y1="1430" x2="1522.8" y2="1457.5" stroke="#1e1e1e" stroke-width="4.6"/>
<line x1="1659.5" y1="1430" x2="1659.5" y2="1444.5" stroke="#1e1e1e" stroke-width="4.6"/>
<line x1="1796.1" y1="1430" x2="1796.1" y2="1457.5" stroke="#1e1e1e" stroke-width="4.6"/>
<line x1="1932.8" y1="1430" x2="1932.8" y2="1444.5" stroke="#1e1e1e" stroke-width="4.6"/>
<line x1="2069.5" y1="1430" x2="2069.5" y2="1457.5" stroke="#1e1e1e" stroke-width="4.6"/>
<text class="b" font-size="72.5" text-anchor="middle" transform="translate(156.0,1531.8) scale(0.985,1)">10</text>
<text class="b" font-size="72.5" text-anchor="middle" transform="translate(429.4,1531.8) scale(0.985,1)">20</text>
<text class="b" font-size="72.5" text-anchor="middle" transform="translate(702.7,1531.8) scale(0.985,1)">30</text>
<text class="b" font-size="72.5" text-anchor="middle" transform="translate(976.1,1531.8) scale(0.985,1)">40</text>
<text class="b" font-size="72.5" text-anchor="middle" transform="translate(1249.4,1531.8) scale(0.985,1)">50</text>
<text class="b" font-size="72.5" text-anchor="middle" transform="translate(1522.8,1531.8) scale(0.985,1)">60</text>
<text class="b" font-size="72.5" text-anchor="middle" transform="translate(1796.1,1531.8) scale(0.985,1)">70</text>
<text class="b" font-size="72.5" text-anchor="middle" transform="translate(2069.5,1531.8) scale(0.985,1)">80</text>
<text class="b" font-size="86" transform="translate(89.5,1084.66) rotate(-90) scale(0.9933,1.0373)">Intensity(a.u.)</text>
<text class="b" font-size="82" transform="translate(1025.25,1668.7) scale(1.0154,1.0333)">2</text>
<text class="s" font-size="80" transform="translate(1072.61,1668.84) scale(1.0968,0.9569)">θ</text>
<text class="s" font-size="58" transform="translate(1132.52,1667.99) scale(1.0929,1.0843)">(°)</text>
<text class="h" font-size="60" transform="translate(276.98,189.2) scale(0.9442,0.9864)">♥</text>
<text class="b" font-size="83" transform="translate(331.23,188.03) scale(1.0277,0.9694)">Pd</text>
<text class="b" font-size="71" transform="translate(910.14,244.98) scale(1.0152,1.0152)">(111)</text>
<text class="b" font-size="71" transform="translate(1093.84,501.57) scale(1.0152,1.0152)">(200)</text>
<text class="b" font-size="71" transform="translate(1692.96,559.77) scale(1.0089,1.0288)">(220)</text>
<text class="h" font-size="46" transform="translate(960.32,287.5) scale(0.9697,1.0)">♥</text>
<text class="h" font-size="46" transform="translate(1141.27,556.4) scale(0.9576,0.9152)">♥</text>
<text class="h" font-size="46" transform="translate(1731.76,604.4) scale(0.9848,0.9697)">♥</text>
</g></svg></body></html>
